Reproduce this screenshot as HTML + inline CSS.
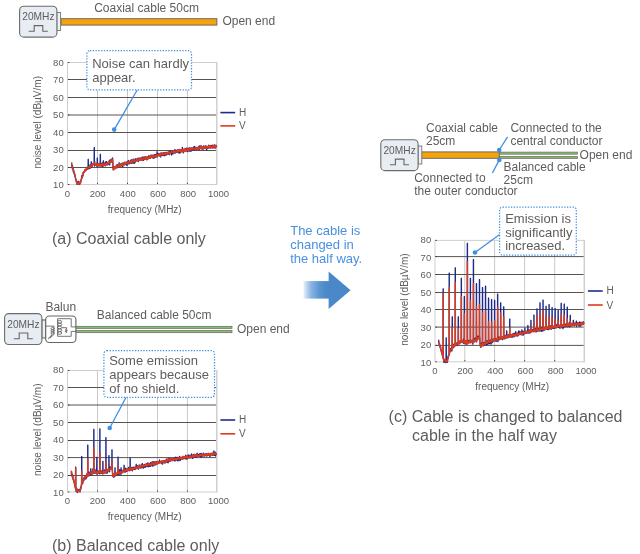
<!DOCTYPE html>
<html><head><meta charset="utf-8"><title>Cable emission</title>
<style>
html,body{margin:0;padding:0;background:#fff;}
svg{display:block;}
text{font-family:"Liberation Sans",sans-serif;fill:#5f5d5c;}
</style></head><body>
<svg width="640" height="554" viewBox="0 0 640 554">
<defs><linearGradient id="ag" x1="0" y1="0" x2="1" y2="0"><stop offset="0" stop-color="#eef4fb"/><stop offset="0.07" stop-color="#d2e1f4"/><stop offset="0.3" stop-color="#8ab4e2"/><stop offset="0.6" stop-color="#5c96d2"/><stop offset="0.85" stop-color="#4c8aca"/><stop offset="1" stop-color="#4a88c9"/></linearGradient></defs>
<rect width="640" height="554" fill="#fff"/>

<rect x="61.00" y="18.70" width="155.90" height="6.4" fill="#f4a30a" stroke="#5e6068" stroke-width="0.9"/>
<rect x="56.80" y="12.50" width="3.8" height="18" fill="#eef1f6" stroke="#747474" stroke-width="0.9"/>
<rect x="19.60" y="6.20" width="37.3" height="30.9" rx="4.2" ry="4.2" fill="#e8ecf3" stroke="#6c6c6c" stroke-width="1.1"/>
<text x="38.40" y="20.10" font-size="10.2" text-anchor="middle">20MHz</text>
<polyline fill="none" stroke="#666" stroke-width="1.1" points="28.80,31.30 34.20,31.30 34.20,25.60 42.80,25.60 42.80,31.30 47.80,31.30"/>
<text x="94.2" y="12.4" font-size="12">Coaxial cable 50cm</text>
<text x="222.4" y="25.4" font-size="12">Open end</text>
<rect x="67.50" y="62.50" width="149.30" height="122.00" fill="#fff"/>
<line x1="97.50" y1="62.50" x2="97.50" y2="184.50" stroke="#c9c9c9" stroke-width="1"/>
<line x1="127.50" y1="62.50" x2="127.50" y2="184.50" stroke="#c9c9c9" stroke-width="1"/>
<line x1="157.50" y1="62.50" x2="157.50" y2="184.50" stroke="#c9c9c9" stroke-width="1"/>
<line x1="187.40" y1="62.50" x2="187.40" y2="184.50" stroke="#c9c9c9" stroke-width="1"/>
<line x1="67.50" y1="167.50" x2="216.80" y2="167.50" stroke="#5a524e" stroke-width="1"/>
<line x1="67.50" y1="150.50" x2="216.80" y2="150.50" stroke="#5a524e" stroke-width="1"/>
<line x1="67.50" y1="132.50" x2="216.80" y2="132.50" stroke="#5a524e" stroke-width="1"/>
<line x1="67.50" y1="115.00" x2="216.80" y2="115.00" stroke="#5a524e" stroke-width="1"/>
<line x1="67.50" y1="97.50" x2="216.80" y2="97.50" stroke="#5a524e" stroke-width="1"/>
<line x1="67.50" y1="79.50" x2="216.80" y2="79.50" stroke="#5a524e" stroke-width="1"/>
<path d="M67.50 62.50 H216.80" stroke="#cfcfcf" stroke-width="1" fill="none"/>
<path d="M67.50 184.50 H216.80" stroke="#cfcfcf" stroke-width="1" fill="none"/>
<path d="M67.50 62.00 V185.00" stroke="#cfcfcf" stroke-width="1" fill="none"/>
<path d="M216.80 62.00 V185.00" stroke="#cfcfcf" stroke-width="1.5" fill="none"/>
<line x1="97.50" y1="182.80" x2="97.50" y2="184.00" stroke="#333" stroke-width="0.9"/>
<line x1="127.50" y1="182.80" x2="127.50" y2="184.00" stroke="#333" stroke-width="0.9"/>
<line x1="157.50" y1="182.80" x2="157.50" y2="184.00" stroke="#333" stroke-width="0.9"/>
<line x1="187.40" y1="182.80" x2="187.40" y2="184.00" stroke="#333" stroke-width="0.9"/>
<line x1="67.90" y1="184.50" x2="69.40" y2="184.50" stroke="#333" stroke-width="0.9"/>
<line x1="67.90" y1="167.50" x2="69.40" y2="167.50" stroke="#333" stroke-width="0.9"/>
<line x1="67.90" y1="150.50" x2="69.40" y2="150.50" stroke="#333" stroke-width="0.9"/>
<line x1="67.90" y1="132.50" x2="69.40" y2="132.50" stroke="#333" stroke-width="0.9"/>
<line x1="67.90" y1="115.00" x2="69.40" y2="115.00" stroke="#333" stroke-width="0.9"/>
<line x1="67.90" y1="97.50" x2="69.40" y2="97.50" stroke="#333" stroke-width="0.9"/>
<line x1="67.90" y1="79.50" x2="69.40" y2="79.50" stroke="#333" stroke-width="0.9"/>
<line x1="67.90" y1="62.50" x2="69.40" y2="62.50" stroke="#333" stroke-width="0.9"/>
<polyline fill="none" stroke="#1d2b8c" stroke-width="1.3" stroke-linejoin="round" points="71.59,162.61 71.74,165.27 71.89,165.70 72.04,166.73 72.19,165.37 72.35,168.93 72.50,165.54 72.65,168.46 72.80,167.93 72.95,168.98 73.10,167.84 73.25,171.76 73.40,170.61 73.56,171.19 73.71,170.26 73.86,172.93 74.01,172.57 74.16,173.77 74.31,173.41 74.46,173.41 74.61,175.56 74.77,173.99 74.92,174.82 75.07,175.80 75.22,176.01 75.37,178.13 75.52,178.19 75.67,179.57 75.83,179.52 75.98,179.34 76.13,181.12 76.28,181.30 76.43,182.04 76.58,182.66 76.73,182.96 76.88,182.80 77.04,184.33 77.19,183.02 77.34,181.65 77.49,182.54 77.64,183.43 77.79,184.10 77.94,183.97 78.09,181.62 78.25,183.20 78.40,183.86 78.55,183.07 78.70,181.23 78.85,183.13 79.00,182.66 79.15,182.96 79.31,183.59 79.46,184.35 79.61,183.59 79.76,183.45 79.91,182.69 80.06,182.44 80.21,182.35 80.36,182.98 80.52,181.81 80.67,182.81 80.82,180.29 80.97,180.42 81.12,180.62 81.27,179.28 81.42,179.24 81.57,177.49 81.73,176.54 81.88,175.41 82.03,178.36 82.18,177.92 82.33,176.53 82.48,175.40 82.63,174.22 82.79,174.27 82.94,176.03 83.09,173.88 83.24,172.30 83.39,172.67 83.54,171.95 83.69,172.69 83.84,172.47 84.00,171.89 84.15,171.46 84.30,171.46 84.45,171.33 84.60,171.88 84.75,170.67 84.90,170.71 85.05,169.57 85.21,169.34 85.36,170.15 85.51,170.53 85.66,170.62 85.81,169.43 85.96,169.60 86.11,169.84 86.27,169.30 86.42,169.77 86.57,168.34 86.72,169.28 86.87,167.51 87.02,168.13 87.17,167.78 87.32,169.24 87.48,167.86 87.63,167.23 87.78,168.77 87.93,168.03 87.97,167.61 88.08,167.66 88.17,159.45 88.23,168.93 88.29,159.45 88.38,167.22 88.49,167.61 88.53,166.62 88.69,168.18 88.84,166.93 88.99,168.45 89.14,167.14 89.29,168.57 89.44,165.85 89.59,166.46 89.75,166.79 89.90,167.43 90.05,165.37 90.20,164.62 90.35,168.22 90.50,165.16 90.65,164.69 90.80,165.85 90.96,167.25 91.00,165.93 91.11,165.18 91.20,161.90 91.26,166.10 91.32,161.90 91.41,166.39 91.52,165.93 91.56,166.88 91.71,165.05 91.86,164.71 92.01,165.96 92.17,164.74 92.32,166.23 92.47,164.24 92.62,164.86 92.77,164.97 92.92,164.77 93.07,163.72 93.22,163.72 93.38,163.82 93.53,164.09 93.68,164.03 93.83,163.40 93.98,163.65 94.03,163.65 94.13,163.11 94.22,147.55 94.28,163.95 94.34,147.55 94.44,166.05 94.54,163.65 94.59,162.77 94.74,161.73 94.89,163.47 95.04,164.05 95.19,164.15 95.34,164.19 95.49,164.12 95.65,165.28 95.80,164.76 95.95,165.28 96.10,164.14 96.25,164.73 96.40,164.03 96.55,164.73 96.70,163.67 96.86,164.48 97.01,162.64 97.05,164.87 97.16,166.63 97.25,158.05 97.31,165.49 97.37,158.05 97.46,164.06 97.57,164.87 97.61,162.56 97.76,165.29 97.92,165.00 98.07,165.25 98.22,163.74 98.37,165.28 98.52,164.34 98.67,165.29 98.82,166.20 98.97,164.66 99.13,164.47 99.28,163.70 99.43,165.04 99.58,165.52 99.73,164.37 99.88,164.67 100.03,164.62 100.08,164.87 100.18,164.95 100.28,154.38 100.34,163.75 100.40,154.38 100.49,164.51 100.59,164.87 100.64,163.02 100.79,163.77 100.94,164.20 101.09,166.39 101.24,164.23 101.40,164.39 101.55,164.01 101.70,163.77 101.85,165.15 102.00,163.96 102.15,165.29 102.30,162.85 102.45,166.01 102.61,166.41 102.76,166.29 102.91,165.55 103.06,165.76 103.10,164.66 103.21,162.79 103.30,160.85 103.36,164.98 103.42,160.85 103.51,165.94 103.62,164.66 103.66,163.57 103.82,165.19 103.97,165.81 104.12,163.77 104.27,164.00 104.42,165.01 104.57,163.22 104.72,164.44 104.88,163.00 105.03,164.06 105.18,163.04 105.33,164.42 105.48,165.62 105.63,162.01 105.78,164.81 105.93,164.40 106.09,164.81 106.13,163.98 106.24,164.25 106.33,161.72 106.39,163.74 106.45,161.72 106.54,163.70 106.65,163.98 106.69,163.18 106.84,162.02 106.99,163.78 107.14,164.77 107.30,164.64 107.45,164.07 107.60,164.96 107.75,162.48 107.90,163.67 108.05,163.41 108.20,163.04 108.35,164.30 108.51,163.71 108.66,162.15 108.81,162.13 108.96,163.07 109.11,160.82 109.26,163.74 109.41,162.74 109.57,162.55 109.72,164.94 109.87,160.24 110.02,161.60 110.17,162.81 110.32,159.69 110.47,160.95 110.62,160.95 110.78,161.80 110.93,160.97 111.08,162.39 111.23,160.01 111.38,160.99 111.53,160.35 111.68,159.18 111.83,159.91 111.99,159.79 112.14,159.63 112.29,160.45 112.44,158.79 112.59,157.96 112.74,160.95 112.89,163.06 113.05,166.99 113.20,169.21 113.35,169.69 113.50,167.05 113.65,168.41 113.80,166.75 113.95,168.78 114.10,168.38 114.26,167.79 114.41,166.93 114.56,167.69 114.71,167.47 114.86,167.59 115.01,167.36 115.16,168.54 115.31,167.32 115.47,167.50 115.62,167.31 115.77,166.71 115.92,167.77 116.07,167.13 116.22,167.26 116.37,166.50 116.53,166.08 116.68,167.68 116.83,166.13 116.98,164.64 117.13,167.97 117.28,167.28 117.43,167.26 117.58,166.61 117.74,164.71 117.89,166.19 118.04,166.80 118.19,165.47 118.34,166.57 118.49,164.84 118.64,165.56 118.79,164.45 118.95,166.35 119.10,162.73 119.25,164.78 119.40,164.87 119.55,165.48 119.70,166.06 119.85,166.13 120.00,165.36 120.16,165.94 120.31,164.85 120.46,165.86 120.61,164.42 120.76,164.04 120.91,165.59 121.06,163.71 121.22,165.03 121.37,163.64 121.52,164.28 121.67,163.57 121.82,165.55 121.97,164.65 122.12,163.09 122.27,165.03 122.43,166.35 122.58,166.20 122.73,166.69 122.88,166.26 123.03,164.57 123.18,162.89 123.33,164.50 123.48,163.71 123.64,164.07 123.79,163.90 123.94,164.02 124.09,163.98 124.24,163.31 124.39,164.83 124.54,162.68 124.70,162.71 124.85,163.73 125.00,162.72 125.15,164.12 125.30,163.90 125.45,163.18 125.60,163.47 125.75,163.66 125.91,163.82 126.06,163.66 126.21,162.17 126.36,164.89 126.51,162.63 126.66,163.14 126.81,162.16 126.96,162.31 127.12,165.44 127.27,162.14 127.42,162.34 127.57,162.58 127.72,163.01 127.87,161.70 128.02,162.88 128.18,160.68 128.33,161.86 128.48,160.31 128.63,163.09 128.78,163.98 128.93,161.57 129.08,161.39 129.23,162.14 129.39,163.62 129.54,162.53 129.69,161.47 129.84,162.20 129.99,162.10 130.14,162.11 130.29,162.81 130.44,162.38 130.60,163.20 130.75,160.09 130.90,162.21 131.05,161.25 131.20,162.66 131.35,160.87 131.50,163.40 131.66,160.67 131.81,161.56 131.96,159.45 132.11,162.70 132.26,161.33 132.41,161.01 132.56,160.14 132.71,161.70 132.87,161.17 133.02,163.28 133.17,161.97 133.32,160.70 133.47,160.04 133.62,161.33 133.77,159.04 133.92,159.29 134.08,161.00 134.23,163.23 134.38,162.58 134.53,161.58 134.68,159.72 134.83,160.45 134.98,162.73 135.13,160.90 135.29,159.08 135.44,160.96 135.59,161.28 135.74,158.54 135.89,160.43 136.04,160.91 136.19,160.07 136.35,160.35 136.50,160.74 136.65,159.13 136.80,159.18 136.95,159.40 137.10,160.27 137.25,159.03 137.40,160.15 137.56,159.61 137.71,159.03 137.86,159.20 138.01,158.22 138.16,159.47 138.31,161.49 138.46,160.94 138.61,158.49 138.77,160.07 138.92,159.34 139.07,160.49 139.22,158.67 139.37,159.97 139.52,158.16 139.67,160.03 139.83,158.41 139.98,158.79 140.13,160.10 140.28,158.31 140.43,160.20 140.58,160.08 140.73,158.56 140.88,159.81 141.04,159.75 141.19,159.47 141.34,160.06 141.49,158.05 141.64,158.43 141.79,159.05 141.94,159.05 142.09,158.47 142.25,157.17 142.40,157.99 142.55,159.28 142.70,158.00 142.85,158.83 143.00,158.87 143.15,156.85 143.31,159.01 143.46,159.04 143.61,160.42 143.76,159.85 143.91,158.04 144.06,159.10 144.21,157.90 144.36,159.44 144.52,159.07 144.67,157.65 144.82,156.85 144.97,157.65 145.12,157.04 145.27,156.51 145.42,157.12 145.57,158.97 145.73,158.15 145.88,157.41 146.03,158.38 146.18,157.51 146.33,159.43 146.48,158.67 146.63,157.33 146.79,159.96 146.94,158.84 147.09,157.75 147.24,159.35 147.39,157.61 147.54,158.40 147.69,157.88 147.84,157.81 148.00,157.34 148.15,158.03 148.30,157.37 148.45,158.00 148.60,156.85 148.75,155.72 148.90,157.13 149.05,157.12 149.21,158.37 149.36,156.54 149.51,157.90 149.66,157.92 149.81,156.57 149.96,156.90 150.11,155.97 150.26,155.61 150.42,157.48 150.57,156.81 150.72,155.20 150.87,155.93 151.02,156.14 151.17,155.53 151.32,157.34 151.48,156.11 151.63,155.33 151.78,155.09 151.93,157.39 152.08,156.82 152.23,156.18 152.38,156.79 152.53,156.85 152.69,155.78 152.84,156.75 152.99,158.09 153.14,155.99 153.29,156.71 153.44,156.97 153.59,157.74 153.74,155.22 153.90,158.30 154.05,157.76 154.20,156.36 154.35,154.87 154.50,154.76 154.65,157.10 154.80,156.12 154.96,157.37 155.11,154.91 155.26,157.27 155.41,155.95 155.56,154.78 155.71,155.95 155.86,154.29 156.01,156.51 156.17,155.28 156.32,154.78 156.47,155.70 156.62,154.20 156.77,154.97 156.92,157.04 157.07,151.61 157.22,154.77 157.38,155.25 157.53,156.67 157.68,155.21 157.83,155.69 157.98,154.60 158.13,154.83 158.28,153.37 158.44,154.99 158.59,154.60 158.74,154.70 158.89,155.17 159.04,155.17 159.19,153.91 159.34,154.18 159.49,155.51 159.65,155.94 159.80,154.91 159.95,153.69 160.10,154.80 160.25,153.07 160.40,155.46 160.55,154.55 160.70,157.07 160.86,155.19 161.01,154.89 161.16,154.07 161.31,152.88 161.46,154.46 161.61,153.06 161.76,153.79 161.92,153.45 162.07,154.82 162.22,153.00 162.37,155.34 162.52,153.80 162.67,155.16 162.82,154.71 162.97,155.59 163.13,154.64 163.28,153.78 163.43,154.15 163.58,155.35 163.73,152.61 163.88,153.67 164.03,152.99 164.18,153.17 164.34,154.54 164.49,155.74 164.64,154.71 164.79,152.62 164.94,154.78 165.09,152.95 165.24,154.30 165.39,153.30 165.55,155.40 165.70,152.49 165.85,153.62 166.00,152.70 166.15,153.33 166.30,152.72 166.45,153.55 166.61,152.71 166.76,154.84 166.91,154.40 167.06,152.63 167.21,153.33 167.36,153.49 167.51,153.41 167.66,152.72 167.82,153.74 167.97,152.65 168.12,153.99 168.27,153.47 168.42,152.10 168.57,151.98 168.72,154.04 168.87,152.14 169.03,153.92 169.18,152.18 169.33,154.68 169.48,153.90 169.63,153.28 169.78,152.92 169.93,151.36 170.09,151.83 170.24,151.15 170.39,151.47 170.54,152.88 170.69,152.83 170.84,151.51 170.99,152.47 171.14,152.63 171.30,153.73 171.45,152.52 171.60,155.07 171.75,152.79 171.90,153.26 172.05,151.62 172.20,152.72 172.35,152.54 172.51,150.90 172.66,153.17 172.81,151.83 172.96,153.92 173.11,151.99 173.26,151.65 173.41,151.19 173.57,152.86 173.72,151.66 173.87,151.64 174.02,151.93 174.17,151.75 174.32,151.42 174.47,151.45 174.62,152.77 174.78,152.94 174.93,149.35 175.08,149.88 175.23,153.05 175.38,151.25 175.53,151.05 175.68,150.90 175.83,151.47 175.99,152.47 176.14,151.72 176.29,152.00 176.44,151.37 176.59,151.73 176.74,151.57 176.89,150.44 177.05,150.21 177.20,152.50 177.35,151.78 177.50,152.07 177.65,150.11 177.80,151.32 177.95,149.84 178.10,151.67 178.26,151.16 178.41,152.45 178.56,149.88 178.71,151.45 178.86,152.51 179.01,151.62 179.16,153.24 179.31,151.03 179.47,150.86 179.62,150.67 179.77,149.48 179.92,151.18 180.07,150.09 180.22,150.54 180.37,151.00 180.52,152.79 180.68,149.85 180.83,151.22 180.98,150.69 181.13,151.91 181.28,150.38 181.43,150.53 181.58,150.58 181.74,150.71 181.89,149.54 182.04,149.60 182.19,149.80 182.34,147.28 182.49,151.02 182.64,150.79 182.79,151.37 182.95,149.95 183.10,151.00 183.25,152.91 183.40,151.46 183.55,150.19 183.70,149.26 183.85,151.71 184.00,150.77 184.16,150.29 184.31,150.83 184.46,149.59 184.61,150.07 184.76,149.74 184.91,150.72 185.06,148.52 185.22,149.97 185.37,148.70 185.52,150.34 185.67,149.33 185.82,150.52 185.97,150.76 186.12,150.49 186.27,149.83 186.43,149.97 186.58,148.26 186.73,150.82 186.88,150.73 187.03,148.02 187.18,149.05 187.33,151.42 187.48,149.10 187.64,149.33 187.79,151.59 187.94,149.86 188.09,149.49 188.24,148.75 188.39,148.52 188.54,149.33 188.70,148.40 188.85,149.52 189.00,150.18 189.15,150.24 189.30,148.80 189.45,151.19 189.60,148.63 189.75,150.33 189.91,149.59 190.06,148.74 190.21,148.03 190.36,151.05 190.51,149.94 190.66,149.10 190.81,149.70 190.96,148.28 191.12,151.10 191.27,148.72 191.42,148.64 191.57,148.99 191.72,147.95 191.87,150.18 192.02,147.91 192.18,149.63 192.33,148.24 192.48,149.23 192.63,148.11 192.78,148.13 192.93,150.27 193.08,148.99 193.23,148.91 193.39,149.03 193.54,149.51 193.69,146.98 193.84,148.54 193.99,147.23 194.14,149.25 194.29,149.71 194.44,148.54 194.60,149.19 194.75,146.33 194.90,148.37 195.05,147.48 195.20,148.79 195.35,148.86 195.50,148.56 195.65,148.17 195.81,147.68 195.96,148.59 196.11,149.11 196.26,149.46 196.41,148.49 196.56,147.85 196.71,147.94 196.87,148.38 197.02,148.92 197.17,148.18 197.32,147.75 197.47,148.32 197.62,148.15 197.77,148.39 197.92,147.34 198.08,148.63 198.23,148.01 198.38,147.79 198.53,147.45 198.68,146.69 198.83,147.46 198.98,147.51 199.13,149.48 199.29,147.47 199.44,145.82 199.59,148.81 199.74,148.97 199.89,148.18 200.04,146.97 200.19,147.43 200.35,148.37 200.50,147.93 200.65,146.88 200.80,147.21 200.95,145.50 201.10,146.85 201.25,147.46 201.40,147.19 201.56,148.10 201.71,148.68 201.86,147.56 202.01,147.23 202.16,149.03 202.31,148.17 202.46,148.00 202.61,147.37 202.77,147.86 202.92,147.16 203.07,147.47 203.22,146.53 203.37,149.18 203.52,145.93 203.67,146.14 203.83,147.45 203.98,146.85 204.13,146.88 204.28,148.16 204.43,147.28 204.58,146.68 204.73,147.11 204.88,146.38 205.04,147.29 205.19,147.29 205.34,148.09 205.49,147.69 205.64,147.77 205.79,145.67 205.94,147.07 206.09,148.25 206.25,146.89 206.40,147.44 206.55,150.18 206.70,146.77 206.85,148.71 207.00,146.64 207.15,148.11 207.31,148.58 207.46,146.68 207.61,148.58 207.76,147.56 207.91,146.92 208.06,146.51 208.21,146.37 208.36,147.11 208.52,147.86 208.67,145.19 208.82,147.62 208.97,145.28 209.12,147.44 209.27,145.87 209.42,145.95 209.57,147.97 209.73,146.61 209.88,146.21 210.03,146.25 210.18,147.10 210.33,146.60 210.48,147.26 210.63,147.99 210.78,145.90 210.94,147.37 211.09,145.49 211.24,146.23 211.39,147.65 211.54,146.94 211.69,147.04 211.84,147.59 212.00,146.26 212.15,147.18 212.30,145.14 212.45,145.87 212.60,147.53 212.75,146.69 212.90,146.87 213.05,148.15 213.21,145.73 213.36,145.70 213.51,145.71 213.66,147.02 213.81,145.54 213.96,146.76 214.11,145.64 214.26,144.78 214.42,146.38 214.57,147.87 214.72,146.79 214.87,145.86 215.02,145.28 215.17,147.54 215.32,146.61 215.48,146.19 215.63,145.98 215.78,145.51 215.93,147.29 216.08,146.77 216.23,145.38 216.38,145.95"/>
<polyline fill="none" stroke="#dc3a1c" stroke-width="1.3" stroke-linejoin="round" points="71.59,162.52 71.74,164.30 71.89,164.63 72.04,165.39 72.19,165.81 72.35,166.91 72.50,167.74 72.65,167.36 72.80,169.47 72.95,168.29 73.10,168.93 73.25,170.14 73.40,170.18 73.56,171.29 73.71,171.92 73.86,171.29 74.01,172.28 74.16,171.71 74.31,171.85 74.46,173.56 74.61,174.31 74.77,174.06 74.92,176.73 75.07,176.99 75.22,176.96 75.37,177.24 75.52,177.97 75.67,178.55 75.83,178.77 75.98,179.81 76.13,180.06 76.28,180.71 76.43,181.69 76.58,182.31 76.73,182.89 76.88,182.49 77.04,183.32 77.19,182.09 77.34,183.10 77.49,182.03 77.64,183.86 77.79,183.13 77.94,183.95 78.09,183.25 78.25,182.62 78.40,183.35 78.55,183.27 78.70,182.85 78.85,181.93 79.00,183.62 79.15,183.71 79.31,183.46 79.46,183.16 79.61,183.54 79.76,182.91 79.91,182.62 80.06,183.82 80.21,182.11 80.36,183.94 80.52,182.29 80.67,181.85 80.82,180.22 80.97,181.15 81.12,180.19 81.27,179.33 81.42,178.53 81.57,178.60 81.73,176.81 81.88,178.13 82.03,177.47 82.18,176.42 82.33,176.49 82.48,176.40 82.63,174.15 82.79,173.98 82.94,175.39 83.09,172.98 83.24,172.37 83.39,173.53 83.54,171.89 83.69,173.38 83.84,172.58 84.00,172.17 84.15,171.56 84.30,171.41 84.45,171.31 84.60,171.76 84.75,170.09 84.90,170.42 85.05,170.99 85.21,170.84 85.36,169.47 85.51,169.77 85.66,170.56 85.81,170.08 85.96,169.04 86.11,170.72 86.27,169.87 86.42,168.74 86.57,169.76 86.72,167.86 86.87,169.37 87.02,169.37 87.17,169.17 87.32,168.16 87.48,168.28 87.63,168.41 87.78,167.79 87.93,168.27 88.08,167.53 88.23,167.21 88.38,167.30 88.53,168.10 88.69,166.80 88.84,167.17 88.99,166.67 89.14,166.50 89.29,167.25 89.44,166.45 89.59,167.28 89.75,166.41 89.90,167.67 90.05,166.18 90.20,166.50 90.35,167.46 90.50,166.14 90.65,166.59 90.80,164.88 90.96,165.97 91.11,164.60 91.26,165.48 91.41,166.34 91.56,165.51 91.71,165.43 91.86,164.94 92.01,166.31 92.17,165.40 92.32,165.48 92.47,164.87 92.62,164.78 92.77,164.59 92.92,164.26 93.07,164.67 93.22,163.97 93.38,164.57 93.53,164.47 93.68,163.89 93.83,163.87 93.98,164.48 94.13,162.40 94.28,164.24 94.44,164.64 94.59,163.08 94.74,163.51 94.89,163.65 95.04,164.34 95.19,164.87 95.34,164.21 95.49,164.16 95.65,164.19 95.80,164.20 95.95,163.56 96.10,165.05 96.25,165.61 96.40,164.73 96.55,165.58 96.70,166.30 96.86,163.75 97.01,164.64 97.16,165.19 97.31,165.11 97.46,163.86 97.61,164.30 97.76,164.50 97.92,164.84 98.07,165.68 98.22,165.10 98.37,165.59 98.52,163.75 98.67,165.63 98.82,165.78 98.97,165.97 99.13,164.46 99.28,165.97 99.43,164.56 99.58,164.75 99.73,165.04 99.88,163.38 100.03,165.23 100.18,164.58 100.34,165.63 100.49,165.35 100.64,164.39 100.79,165.31 100.94,164.85 101.09,164.40 101.24,164.76 101.40,165.05 101.55,164.75 101.70,166.07 101.85,164.94 102.00,164.11 102.15,163.67 102.30,164.31 102.45,164.63 102.61,164.61 102.76,165.17 102.91,164.10 103.06,164.13 103.21,165.00 103.36,165.61 103.51,164.38 103.66,163.87 103.82,164.90 103.97,164.46 104.12,164.36 104.27,163.99 104.42,164.27 104.57,165.15 104.72,164.05 104.88,164.74 105.03,164.53 105.18,163.99 105.33,165.65 105.48,163.92 105.63,165.03 105.78,164.65 105.93,163.47 106.09,163.40 106.24,164.56 106.39,164.61 106.54,164.83 106.69,164.34 106.84,162.76 106.99,163.55 107.14,164.19 107.30,163.59 107.45,164.24 107.60,163.40 107.75,162.84 107.90,164.05 108.05,162.58 108.20,162.06 108.35,162.39 108.51,163.21 108.66,162.22 108.81,163.32 108.96,163.29 109.11,161.24 109.26,163.26 109.41,162.90 109.57,162.48 109.72,162.19 109.87,161.29 110.02,161.47 110.17,160.98 110.32,161.19 110.47,161.33 110.62,162.22 110.78,161.13 110.93,161.52 111.08,161.36 111.23,160.95 111.38,159.35 111.53,159.87 111.68,159.70 111.83,160.85 111.99,160.04 112.14,160.03 112.29,159.57 112.44,159.09 112.59,159.54 112.74,161.61 112.89,163.50 113.05,165.89 113.20,167.88 113.35,169.98 113.50,168.84 113.65,168.26 113.80,168.72 113.95,168.69 114.10,169.53 114.26,167.48 114.41,168.02 114.56,168.31 114.71,166.62 114.86,167.89 115.01,167.01 115.16,167.32 115.31,167.02 115.47,168.58 115.62,167.36 115.77,167.46 115.92,166.69 116.07,165.34 116.22,166.04 116.37,166.11 116.53,167.74 116.68,166.63 116.83,166.84 116.98,167.50 117.13,166.36 117.28,165.87 117.43,166.21 117.58,165.78 117.74,165.45 117.89,166.44 118.04,164.94 118.19,166.59 118.34,166.13 118.49,165.96 118.64,166.12 118.79,166.70 118.95,165.07 119.10,164.51 119.25,165.27 119.40,165.43 119.55,165.66 119.70,165.08 119.85,164.94 120.00,165.34 120.16,165.54 120.31,166.68 120.46,165.09 120.61,164.15 120.76,164.93 120.91,165.85 121.06,165.36 121.22,165.78 121.37,166.02 121.52,163.78 121.67,164.54 121.82,164.31 121.97,165.89 122.12,164.16 122.27,164.01 122.43,163.62 122.58,164.97 122.73,165.06 122.88,163.45 123.03,163.78 123.18,164.30 123.33,163.61 123.48,162.94 123.64,163.78 123.79,163.59 123.94,163.28 124.09,163.35 124.24,163.84 124.39,163.65 124.54,164.80 124.70,164.40 124.85,161.95 125.00,163.87 125.15,164.49 125.30,162.56 125.45,162.23 125.60,164.09 125.75,163.21 125.91,163.31 126.06,163.31 126.21,163.59 126.36,163.53 126.51,163.27 126.66,162.58 126.81,162.98 126.96,162.67 127.12,162.66 127.27,162.82 127.42,163.05 127.57,163.13 127.72,162.79 127.87,162.53 128.02,163.36 128.18,162.93 128.33,161.81 128.48,162.87 128.63,162.26 128.78,163.17 128.93,161.48 129.08,161.39 129.23,162.02 129.39,162.06 129.54,161.81 129.69,162.14 129.84,162.46 129.99,161.46 130.14,162.39 130.29,161.65 130.44,161.09 130.60,162.56 130.75,161.88 130.90,161.74 131.05,163.04 131.20,161.98 131.35,161.59 131.50,162.39 131.66,160.95 131.81,160.50 131.96,160.58 132.11,160.17 132.26,161.59 132.41,160.64 132.56,161.12 132.71,162.05 132.87,161.83 133.02,161.46 133.17,162.27 133.32,161.15 133.47,161.08 133.62,159.29 133.77,160.83 133.92,160.13 134.08,160.60 134.23,161.33 134.38,161.46 134.53,161.18 134.68,161.00 134.83,160.04 134.98,159.95 135.13,160.92 135.29,160.79 135.44,161.09 135.59,160.68 135.74,160.35 135.89,160.82 136.04,160.36 136.19,160.80 136.35,159.54 136.50,160.19 136.65,160.64 136.80,159.38 136.95,161.29 137.10,160.25 137.25,159.19 137.40,159.34 137.56,159.57 137.71,160.04 137.86,159.35 138.01,159.49 138.16,159.23 138.31,160.49 138.46,159.13 138.61,160.35 138.77,160.54 138.92,159.72 139.07,159.72 139.22,158.84 139.37,159.73 139.52,159.36 139.67,160.14 139.83,160.24 139.98,159.67 140.13,159.04 140.28,157.76 140.43,159.98 140.58,158.17 140.73,159.43 140.88,158.34 141.04,160.08 141.19,158.97 141.34,159.00 141.49,159.34 141.64,159.19 141.79,158.98 141.94,158.86 142.09,160.07 142.25,159.64 142.40,159.37 142.55,160.49 142.70,159.60 142.85,158.26 143.00,158.49 143.15,159.22 143.31,158.03 143.46,158.58 143.61,159.12 143.76,158.12 143.91,157.65 144.06,158.65 144.21,157.95 144.36,158.19 144.52,158.13 144.67,159.07 144.82,159.10 144.97,158.91 145.12,158.00 145.27,158.20 145.42,158.24 145.57,157.29 145.73,157.11 145.88,159.18 146.03,159.30 146.18,158.23 146.33,157.64 146.48,157.52 146.63,158.01 146.79,159.11 146.94,156.61 147.09,158.16 147.24,157.48 147.39,157.65 147.54,157.83 147.69,156.91 147.84,156.78 148.00,158.37 148.15,159.07 148.30,157.86 148.45,157.21 148.60,157.21 148.75,157.13 148.90,156.62 149.05,156.65 149.21,157.52 149.36,158.06 149.51,157.65 149.66,156.41 149.81,157.54 149.96,156.37 150.11,156.62 150.26,155.67 150.42,156.97 150.57,158.36 150.72,155.66 150.87,156.84 151.02,156.90 151.17,155.91 151.32,156.97 151.48,157.38 151.63,156.90 151.78,156.29 151.93,156.86 152.08,155.46 152.23,157.14 152.38,156.99 152.53,157.32 152.69,155.26 152.84,155.34 152.99,156.56 153.14,156.88 153.29,157.40 153.44,155.37 153.59,155.85 153.74,155.80 153.90,156.39 154.05,155.38 154.20,156.07 154.35,156.79 154.50,156.58 154.65,155.82 154.80,156.80 154.96,155.59 155.11,156.47 155.26,156.14 155.41,156.14 155.56,155.98 155.71,155.42 155.86,156.53 156.01,156.09 156.17,156.50 156.32,155.92 156.47,156.19 156.62,155.45 156.77,155.22 156.92,154.27 157.07,155.73 157.22,154.57 157.38,155.70 157.53,155.74 157.68,154.90 157.83,154.63 157.98,154.55 158.13,154.87 158.28,155.07 158.44,154.04 158.59,155.39 158.74,155.59 158.89,155.43 159.04,155.80 159.19,155.39 159.34,153.96 159.49,155.91 159.65,153.80 159.80,155.80 159.95,154.15 160.10,156.47 160.25,153.68 160.40,155.14 160.55,154.57 160.70,154.70 160.86,154.83 161.01,153.64 161.16,153.90 161.31,154.56 161.46,154.21 161.61,153.88 161.76,154.62 161.92,153.87 162.07,153.72 162.22,154.70 162.37,155.02 162.52,154.07 162.67,154.79 162.82,153.95 162.97,154.35 163.13,153.53 163.28,153.55 163.43,152.79 163.58,153.28 163.73,153.69 163.88,154.37 164.03,154.58 164.18,153.60 164.34,153.08 164.49,153.32 164.64,153.91 164.79,154.14 164.94,153.05 165.09,153.58 165.24,154.80 165.39,152.72 165.55,155.01 165.70,154.09 165.85,153.83 166.00,153.18 166.15,153.85 166.30,153.91 166.45,153.47 166.61,152.72 166.76,153.60 166.91,152.06 167.06,153.16 167.21,153.60 167.36,153.53 167.51,153.64 167.66,152.79 167.82,153.35 167.97,153.24 168.12,153.50 168.27,151.96 168.42,154.22 168.57,153.22 168.72,152.74 168.87,152.75 169.03,152.89 169.18,152.42 169.33,152.70 169.48,152.95 169.63,153.43 169.78,152.55 169.93,153.40 170.09,153.94 170.24,152.07 170.39,152.80 170.54,152.90 170.69,152.69 170.84,152.63 170.99,152.71 171.14,152.59 171.30,152.30 171.45,152.50 171.60,152.06 171.75,150.82 171.90,151.71 172.05,151.99 172.20,152.19 172.35,151.99 172.51,151.70 172.66,151.88 172.81,151.40 172.96,151.43 173.11,152.19 173.26,152.33 173.41,151.71 173.57,150.96 173.72,152.63 173.87,151.66 174.02,151.95 174.17,151.98 174.32,152.00 174.47,150.87 174.62,151.15 174.78,151.69 174.93,152.07 175.08,151.16 175.23,151.48 175.38,151.94 175.53,151.90 175.68,151.46 175.83,152.62 175.99,151.66 176.14,151.72 176.29,151.87 176.44,151.07 176.59,151.93 176.74,151.30 176.89,151.65 177.05,151.63 177.20,151.66 177.35,149.58 177.50,151.25 177.65,151.80 177.80,152.24 177.95,152.14 178.10,151.81 178.26,151.48 178.41,151.28 178.56,150.48 178.71,151.40 178.86,150.85 179.01,151.07 179.16,150.65 179.31,150.69 179.47,150.95 179.62,151.01 179.77,149.71 179.92,150.83 180.07,151.57 180.22,151.20 180.37,151.84 180.52,151.18 180.68,151.66 180.83,150.11 180.98,149.33 181.13,150.51 181.28,151.12 181.43,151.09 181.58,151.39 181.74,151.43 181.89,150.71 182.04,149.90 182.19,150.74 182.34,151.56 182.49,149.15 182.64,151.58 182.79,150.02 182.95,149.19 183.10,149.61 183.25,149.83 183.40,151.50 183.55,149.76 183.70,150.67 183.85,150.22 184.00,151.07 184.16,150.92 184.31,150.75 184.46,148.93 184.61,150.63 184.76,150.90 184.91,151.50 185.06,148.88 185.22,149.56 185.37,150.28 185.52,151.42 185.67,150.56 185.82,150.36 185.97,148.59 186.12,150.36 186.27,149.39 186.43,150.82 186.58,149.95 186.73,149.08 186.88,150.07 187.03,150.53 187.18,149.17 187.33,149.24 187.48,149.40 187.64,148.86 187.79,149.82 187.94,149.27 188.09,150.16 188.24,149.62 188.39,149.39 188.54,150.75 188.70,149.77 188.85,148.95 189.00,150.34 189.15,149.78 189.30,149.25 189.45,147.44 189.60,148.68 189.75,149.60 189.91,150.21 190.06,149.45 190.21,149.19 190.36,148.51 190.51,149.49 190.66,148.63 190.81,148.45 190.96,149.26 191.12,148.61 191.27,149.30 191.42,149.03 191.57,149.96 191.72,148.98 191.87,148.47 192.02,148.62 192.18,149.10 192.33,148.32 192.48,149.28 192.63,149.04 192.78,149.71 192.93,148.44 193.08,149.10 193.23,148.68 193.39,148.68 193.54,148.78 193.69,148.57 193.84,148.28 193.99,148.78 194.14,148.37 194.29,148.58 194.44,148.31 194.60,148.80 194.75,147.99 194.90,148.22 195.05,149.11 195.20,148.67 195.35,149.01 195.50,149.63 195.65,148.64 195.81,147.68 195.96,148.06 196.11,148.46 196.26,148.17 196.41,148.01 196.56,147.65 196.71,147.86 196.87,147.05 197.02,147.63 197.17,149.39 197.32,148.22 197.47,147.64 197.62,148.38 197.77,149.20 197.92,148.19 198.08,148.58 198.23,149.55 198.38,148.24 198.53,147.48 198.68,147.69 198.83,147.67 198.98,147.98 199.13,148.72 199.29,147.29 199.44,148.17 199.59,148.38 199.74,147.88 199.89,146.91 200.04,147.64 200.19,147.72 200.35,148.47 200.50,146.70 200.65,147.32 200.80,146.85 200.95,146.70 201.10,148.55 201.25,147.25 201.40,147.29 201.56,148.87 201.71,147.52 201.86,148.00 202.01,148.92 202.16,147.19 202.31,147.79 202.46,147.68 202.61,147.16 202.77,147.56 202.92,147.31 203.07,148.33 203.22,147.06 203.37,147.76 203.52,148.15 203.67,147.73 203.83,147.03 203.98,148.38 204.13,147.05 204.28,147.69 204.43,146.29 204.58,146.98 204.73,147.21 204.88,146.89 205.04,147.70 205.19,147.08 205.34,147.47 205.49,147.68 205.64,147.17 205.79,147.39 205.94,146.47 206.09,147.09 206.25,147.06 206.40,147.36 206.55,146.45 206.70,148.37 206.85,148.35 207.00,147.93 207.15,147.17 207.31,148.39 207.46,147.81 207.61,146.72 207.76,146.80 207.91,148.02 208.06,146.67 208.21,146.14 208.36,145.75 208.52,146.95 208.67,146.86 208.82,147.09 208.97,145.97 209.12,146.68 209.27,147.57 209.42,146.46 209.57,147.34 209.73,146.58 209.88,147.72 210.03,146.99 210.18,145.41 210.33,147.63 210.48,146.73 210.63,146.15 210.78,146.99 210.94,146.17 211.09,146.53 211.24,147.18 211.39,147.28 211.54,146.65 211.69,147.86 211.84,147.54 212.00,146.62 212.15,147.47 212.30,146.86 212.45,147.44 212.60,145.91 212.75,146.12 212.90,146.38 213.05,146.52 213.21,146.95 213.36,147.32 213.51,145.29 213.66,146.20 213.81,146.67 213.96,146.28 214.11,145.95 214.26,145.72 214.42,145.48 214.57,146.04 214.72,146.99 214.87,146.42 215.02,146.15 215.17,146.49 215.32,146.38 215.48,148.31 215.63,145.37 215.78,146.49 215.93,145.32 216.08,145.78 216.23,146.09 216.38,145.08"/>
<text x="63.70" y="188.40" font-size="9.5" text-anchor="end">10</text>
<text x="63.70" y="170.90" font-size="9.5" text-anchor="end">20</text>
<text x="63.70" y="153.40" font-size="9.5" text-anchor="end">30</text>
<text x="63.70" y="135.90" font-size="9.5" text-anchor="end">40</text>
<text x="63.70" y="118.40" font-size="9.5" text-anchor="end">50</text>
<text x="63.70" y="100.90" font-size="9.5" text-anchor="end">60</text>
<text x="63.70" y="83.40" font-size="9.5" text-anchor="end">70</text>
<text x="63.70" y="65.90" font-size="9.5" text-anchor="end">80</text>
<text x="67.35" y="196.60" font-size="9.5" text-anchor="middle">0</text>
<text x="97.57" y="196.60" font-size="9.5" text-anchor="middle">200</text>
<text x="127.79" y="196.60" font-size="9.5" text-anchor="middle">400</text>
<text x="158.01" y="196.60" font-size="9.5" text-anchor="middle">600</text>
<text x="188.23" y="196.60" font-size="9.5" text-anchor="middle">800</text>
<text x="218.45" y="196.60" font-size="9.5" text-anchor="middle">1000</text>
<text x="144.75" y="212.80" font-size="10" text-anchor="middle">frequency (MHz)</text>
<text transform="translate(40.90,122.25) rotate(-90)" font-size="10" text-anchor="middle">noise level (dBµV/m)</text>
<line x1="220.40" y1="112.60" x2="235.20" y2="112.60" stroke="#1d2b8c" stroke-width="1.6"/>
<line x1="220.40" y1="125.90" x2="235.20" y2="125.90" stroke="#dc3a1c" stroke-width="1.6"/>
<text x="239.00" y="116.00" font-size="10">H</text>
<text x="239.00" y="129.40" font-size="10">V</text>
<line x1="137.2" y1="90" x2="114.2" y2="129.6" stroke="#3f8fe3" stroke-width="1.3"/>
<circle cx="114.2" cy="129.6" r="2.3" fill="#3f8fe3"/>
<rect x="86.9" y="50.7" width="104.6" height="39.2" rx="3" ry="3" fill="#fff" stroke="#3f8fe3" stroke-width="1.25" stroke-dasharray="1.3 1.5"/>
<text x="92.2" y="68.00" font-size="13">Noise can hardly</text>
<text x="92.2" y="82.00" font-size="13">appear.</text>
<text x="52" y="244" font-size="16">(a) Coaxial cable only</text>
<rect x="75.50" y="326.30" width="156.50" height="2.1" fill="#86bd66" stroke="#686868" stroke-width="0.7"/>
<rect x="75.50" y="330.60" width="156.50" height="2.1" fill="#86bd66" stroke="#686868" stroke-width="0.7"/>
<rect x="41.80" y="319.90" width="3.8" height="18" fill="#eef1f6" stroke="#747474" stroke-width="0.9"/>
<rect x="4.60" y="313.60" width="37.3" height="30.9" rx="4.2" ry="4.2" fill="#e8ecf3" stroke="#6c6c6c" stroke-width="1.1"/>
<text x="23.40" y="327.50" font-size="10.2" text-anchor="middle">20MHz</text>
<polyline fill="none" stroke="#666" stroke-width="1.1" points="13.80,338.70 19.20,338.70 19.20,333.00 27.80,333.00 27.80,338.70 32.80,338.70"/>
<g fill="none" stroke="#5c5c5c" stroke-width="0.85">
<rect x="42.2" y="320.2" width="3.6" height="17.6" fill="#eef1f6" stroke="#777" stroke-width="0.9"/>
<rect x="45.7" y="316" width="30.2" height="26.5" rx="3.6" ry="3.6" fill="#fff" stroke="#666" stroke-width="1.15"/>
<path d="M45.7 326.1 H54 V334.6"/>
<ellipse cx="52.5" cy="328.6" rx="1.6" ry="1"/><ellipse cx="52.5" cy="330.8" rx="1.6" ry="1"/><ellipse cx="52.5" cy="333" rx="1.6" ry="1"/>
<path d="M54 334.6 L52.4 335.4 L51.4 334.8 L51.9 336.5 L50.3 336 L50.8 337.8 L49.2 337.3 L48.6 339.2"/>
<path d="M57.6 336.3 V318.7 H71.2 V326.9 H75.9"/>
<path d="M57.6 336.3 H71.2 V331.4 H75.9"/>
<ellipse cx="59.7" cy="321.8" rx="2.1" ry="1.3"/><ellipse cx="59.7" cy="324.6" rx="2.1" ry="1.3"/><ellipse cx="59.7" cy="327.4" rx="2.1" ry="1.3"/><ellipse cx="59.7" cy="330.2" rx="2.1" ry="1.3"/><ellipse cx="59.7" cy="333" rx="2.1" ry="1.3"/>
<path d="M61.8 327.7 H66.6 V329.4 L65.2 330 L67.4 330.6 L65.2 331.4 L67 332 L65.6 332.8"/>
</g>
<text x="45.4" y="310.6" font-size="12">Balun</text>
<text x="96.8" y="318.5" font-size="12">Balanced cable 50cm</text>
<text x="237" y="332.7" font-size="12">Open end</text>
<rect x="67.50" y="370.50" width="149.30" height="121.50" fill="#fff"/>
<line x1="97.50" y1="370.50" x2="97.50" y2="492.00" stroke="#c9c9c9" stroke-width="1"/>
<line x1="127.50" y1="370.50" x2="127.50" y2="492.00" stroke="#c9c9c9" stroke-width="1"/>
<line x1="157.50" y1="370.50" x2="157.50" y2="492.00" stroke="#c9c9c9" stroke-width="1"/>
<line x1="187.40" y1="370.50" x2="187.40" y2="492.00" stroke="#c9c9c9" stroke-width="1"/>
<line x1="67.50" y1="475.50" x2="216.80" y2="475.50" stroke="#5a524e" stroke-width="1"/>
<line x1="67.50" y1="457.60" x2="216.80" y2="457.60" stroke="#5a524e" stroke-width="1"/>
<line x1="67.50" y1="440.50" x2="216.80" y2="440.50" stroke="#5a524e" stroke-width="1"/>
<line x1="67.50" y1="422.50" x2="216.80" y2="422.50" stroke="#5a524e" stroke-width="1"/>
<line x1="67.50" y1="405.00" x2="216.80" y2="405.00" stroke="#5a524e" stroke-width="1"/>
<line x1="67.50" y1="387.50" x2="216.80" y2="387.50" stroke="#5a524e" stroke-width="1"/>
<path d="M67.50 370.50 H216.80" stroke="#cfcfcf" stroke-width="1" fill="none"/>
<path d="M67.50 492.00 H216.80" stroke="#cfcfcf" stroke-width="1" fill="none"/>
<path d="M67.50 370.00 V492.50" stroke="#cfcfcf" stroke-width="1" fill="none"/>
<path d="M216.80 370.00 V492.50" stroke="#cfcfcf" stroke-width="1.5" fill="none"/>
<line x1="97.50" y1="490.30" x2="97.50" y2="491.50" stroke="#333" stroke-width="0.9"/>
<line x1="127.50" y1="490.30" x2="127.50" y2="491.50" stroke="#333" stroke-width="0.9"/>
<line x1="157.50" y1="490.30" x2="157.50" y2="491.50" stroke="#333" stroke-width="0.9"/>
<line x1="187.40" y1="490.30" x2="187.40" y2="491.50" stroke="#333" stroke-width="0.9"/>
<line x1="67.90" y1="492.00" x2="69.40" y2="492.00" stroke="#333" stroke-width="0.9"/>
<line x1="67.90" y1="475.50" x2="69.40" y2="475.50" stroke="#333" stroke-width="0.9"/>
<line x1="67.90" y1="457.60" x2="69.40" y2="457.60" stroke="#333" stroke-width="0.9"/>
<line x1="67.90" y1="440.50" x2="69.40" y2="440.50" stroke="#333" stroke-width="0.9"/>
<line x1="67.90" y1="422.50" x2="69.40" y2="422.50" stroke="#333" stroke-width="0.9"/>
<line x1="67.90" y1="405.00" x2="69.40" y2="405.00" stroke="#333" stroke-width="0.9"/>
<line x1="67.90" y1="387.50" x2="69.40" y2="387.50" stroke="#333" stroke-width="0.9"/>
<line x1="67.90" y1="370.50" x2="69.40" y2="370.50" stroke="#333" stroke-width="0.9"/>
<polyline fill="none" stroke="#1d2b8c" stroke-width="1.3" stroke-linejoin="round" points="71.14,472.08 71.29,472.24 71.44,474.75 71.59,471.62 71.74,475.43 71.90,475.02 72.05,474.24 72.20,476.43 72.35,476.75 72.50,477.12 72.65,476.22 72.80,475.07 72.95,477.76 73.11,479.40 73.26,478.33 73.41,479.95 73.56,479.92 73.71,479.29 73.86,481.67 74.01,481.47 74.16,482.85 74.32,482.75 74.47,482.94 74.62,484.74 74.77,484.71 74.92,485.20 75.07,486.18 75.22,487.31 75.38,488.13 75.42,487.95 75.53,487.50 75.62,467.12 75.68,488.21 75.74,467.12 75.83,486.27 75.94,487.95 75.98,491.23 76.13,489.24 76.28,489.46 76.43,488.97 76.59,490.27 76.74,491.56 76.89,490.75 77.04,490.23 77.19,491.05 77.34,490.01 77.49,492.55 77.64,489.08 77.80,489.34 77.95,491.07 78.10,490.16 78.25,490.70 78.40,491.55 78.55,490.67 78.70,489.79 78.86,491.12 79.01,491.11 79.16,490.82 79.31,490.33 79.46,489.52 79.61,491.36 79.76,490.26 79.91,490.54 80.07,491.96 80.22,489.99 80.37,489.13 80.52,488.45 80.67,487.52 80.82,489.21 80.97,486.62 81.12,486.74 81.28,486.89 81.43,484.51 81.47,484.03 81.58,483.81 81.67,456.62 81.73,484.66 81.79,456.62 81.88,482.73 81.99,484.03 82.03,483.42 82.18,482.50 82.34,483.13 82.49,480.05 82.64,483.65 82.79,480.69 82.94,479.72 83.09,482.14 83.24,480.16 83.39,479.85 83.55,478.77 83.70,478.16 83.85,479.54 84.00,480.28 84.15,477.42 84.30,477.36 84.45,478.77 84.60,477.82 84.76,477.63 84.91,477.29 85.06,477.47 85.21,476.15 85.36,479.01 85.51,476.17 85.66,476.64 85.82,477.05 85.97,475.55 86.12,478.77 86.27,475.23 86.42,475.81 86.57,477.11 86.72,475.44 86.87,475.98 87.03,473.04 87.18,473.67 87.33,474.93 87.48,475.97 87.52,475.11 87.63,475.75 87.72,445.25 87.78,475.42 87.84,445.25 87.93,475.56 88.04,475.11 88.08,475.81 88.24,475.42 88.39,475.03 88.54,475.18 88.69,475.27 88.84,475.41 88.99,471.98 89.14,475.77 89.29,475.25 89.45,473.76 89.60,474.41 89.75,473.61 89.90,473.16 90.05,472.63 90.20,473.04 90.35,474.63 90.51,472.53 90.55,473.43 90.66,475.21 90.75,468.88 90.81,473.54 90.87,468.88 90.96,473.79 91.07,473.43 91.11,474.22 91.26,472.51 91.41,473.15 91.56,471.87 91.72,474.17 91.87,471.81 92.02,472.04 92.17,472.28 92.32,473.65 92.47,472.42 92.62,473.55 92.77,473.95 92.93,468.68 93.08,470.78 93.23,469.88 93.38,471.90 93.53,470.71 93.58,471.15 93.68,470.59 93.77,429.50 93.83,470.57 93.89,429.50 93.99,471.21 94.09,471.15 94.14,471.49 94.29,473.32 94.44,470.81 94.59,471.05 94.74,470.44 94.89,471.84 95.04,469.96 95.20,472.13 95.35,472.97 95.50,470.92 95.65,472.33 95.80,473.15 95.95,471.88 96.10,471.33 96.25,471.89 96.41,471.71 96.56,468.29 96.60,472.37 96.71,471.52 96.80,457.50 96.86,470.89 96.92,457.50 97.01,474.34 97.12,472.37 97.16,472.14 97.31,471.80 97.47,472.89 97.62,473.37 97.77,472.14 97.92,472.81 98.07,473.07 98.22,471.38 98.37,471.19 98.52,472.17 98.68,472.89 98.83,471.95 98.98,471.64 99.13,471.82 99.28,473.81 99.43,472.73 99.58,472.05 99.63,472.37 99.73,471.78 99.83,428.98 99.89,471.45 99.95,428.98 100.04,471.63 100.14,472.37 100.19,473.44 100.34,473.02 100.49,473.51 100.64,470.58 100.79,472.13 100.95,471.77 101.10,471.29 101.25,472.59 101.40,473.37 101.55,472.67 101.70,472.39 101.85,470.79 102.00,471.39 102.16,473.26 102.31,471.56 102.46,471.49 102.61,473.20 102.65,472.16 102.76,472.28 102.85,461.52 102.91,473.94 102.97,461.52 103.06,471.83 103.17,472.16 103.21,472.44 103.37,473.43 103.52,472.79 103.67,471.88 103.82,472.63 103.97,471.80 104.12,471.55 104.27,472.88 104.42,472.36 104.58,469.98 104.73,471.92 104.88,472.84 105.03,471.89 105.18,473.16 105.33,470.70 105.48,471.35 105.64,470.59 105.68,471.48 105.79,470.69 105.88,437.73 105.94,471.10 106.00,437.73 106.09,470.46 106.20,471.48 106.24,471.13 106.39,471.88 106.54,472.15 106.69,471.51 106.85,473.42 107.00,469.17 107.15,472.50 107.30,470.84 107.45,471.96 107.60,472.56 107.75,470.61 107.90,470.75 108.06,470.53 108.21,469.77 108.36,470.82 108.51,469.78 108.66,469.57 108.71,469.91 108.81,470.31 108.90,455.75 108.96,470.18 109.02,455.75 109.12,469.31 109.22,469.91 109.27,469.69 109.42,469.45 109.57,471.74 109.72,469.25 109.87,468.80 110.02,469.14 110.17,468.54 110.33,466.89 110.48,468.49 110.63,467.78 110.78,469.09 110.93,468.95 111.08,468.44 111.23,468.82 111.38,467.69 111.54,468.44 111.69,467.56 111.73,467.10 111.84,468.63 111.93,449.80 111.99,468.69 112.05,449.80 112.14,467.60 112.25,467.10 112.29,470.21 112.44,472.04 112.60,474.23 112.75,476.21 112.90,474.80 113.05,474.42 113.20,474.97 113.35,475.94 113.50,474.08 113.65,476.93 113.81,477.33 113.96,475.06 114.11,475.25 114.26,475.31 114.41,475.07 114.56,476.61 114.71,476.08 114.76,474.82 114.86,473.71 114.96,468.00 115.02,473.84 115.08,468.00 115.17,475.45 115.27,474.82 115.32,472.82 115.47,475.65 115.62,475.09 115.77,474.19 115.92,475.56 116.08,474.80 116.23,474.43 116.38,474.58 116.53,473.29 116.68,473.48 116.83,475.04 116.98,474.57 117.13,473.67 117.29,473.84 117.44,474.46 117.59,473.23 117.74,472.78 117.78,473.43 117.89,474.10 117.98,457.15 118.04,472.67 118.10,457.15 118.19,474.92 118.30,473.43 118.34,474.84 118.50,472.73 118.65,473.95 118.80,474.03 118.95,473.26 119.10,473.59 119.25,472.55 119.40,474.20 119.55,473.08 119.71,469.63 119.86,472.51 120.01,474.41 120.16,471.94 120.31,471.93 120.46,471.08 120.61,472.21 120.77,472.93 120.81,472.20 120.92,470.90 121.01,468.00 121.07,471.51 121.13,468.00 121.22,473.88 121.33,472.20 121.37,471.38 121.52,472.27 121.67,470.92 121.82,472.30 121.98,471.13 122.13,471.65 122.28,471.22 122.43,471.75 122.58,472.07 122.73,471.56 122.88,470.96 123.03,471.12 123.19,469.91 123.34,471.00 123.49,470.75 123.64,469.28 123.79,471.19 123.84,471.15 123.94,470.69 124.03,465.38 124.09,471.73 124.15,465.38 124.25,471.06 124.35,471.15 124.40,469.46 124.55,470.69 124.70,469.54 124.85,471.91 125.00,472.18 125.15,470.49 125.30,472.05 125.46,468.11 125.61,469.42 125.76,471.77 125.91,470.68 126.06,471.02 126.21,470.01 126.36,470.42 126.51,469.41 126.67,468.84 126.82,470.42 126.97,471.28 127.12,469.56 127.27,470.22 127.42,468.92 127.57,470.13 127.73,469.15 127.88,469.58 128.03,470.05 128.18,470.26 128.33,469.11 128.48,467.32 128.63,468.91 128.78,469.80 128.94,468.96 129.09,469.49 129.24,470.79 129.39,469.22 129.54,467.99 129.69,469.75 129.84,470.49 129.89,469.33 129.99,468.90 130.09,458.20 130.15,467.57 130.21,458.20 130.30,468.39 130.40,469.33 130.45,468.27 130.60,467.00 130.75,467.62 130.90,468.45 131.05,469.30 131.21,468.93 131.36,469.12 131.51,468.17 131.66,469.80 131.81,467.42 131.96,468.73 132.11,469.21 132.26,468.01 132.42,470.75 132.57,469.52 132.72,469.31 132.87,467.85 133.02,469.07 133.17,467.19 133.32,468.95 133.47,467.98 133.63,469.13 133.78,467.29 133.93,468.61 134.08,467.83 134.23,468.77 134.38,469.30 134.53,468.44 134.69,467.12 134.84,469.12 134.99,469.57 135.14,468.36 135.29,467.27 135.44,469.00 135.59,468.47 135.74,467.73 135.90,468.19 135.94,467.79 136.05,467.55 136.14,464.50 136.20,466.65 136.26,464.50 136.35,467.73 136.46,467.79 136.50,467.78 136.65,466.94 136.80,467.70 136.95,468.51 137.11,468.54 137.26,468.59 137.41,465.64 137.56,467.49 137.71,466.85 137.86,466.68 138.01,468.23 138.16,466.68 138.32,467.79 138.47,469.22 138.62,467.38 138.77,468.17 138.92,467.42 139.07,466.73 139.22,464.82 139.38,467.46 139.53,467.10 139.68,466.55 139.83,466.69 139.98,466.98 140.13,467.83 140.28,467.67 140.43,466.89 140.59,467.79 140.74,467.27 140.89,467.80 141.04,465.48 141.19,467.96 141.34,464.65 141.49,467.00 141.64,467.42 141.80,467.50 141.95,465.58 141.99,466.25 142.10,465.30 142.19,463.62 142.25,467.07 142.31,463.62 142.40,465.90 142.51,466.25 142.55,466.32 142.70,466.38 142.86,465.96 143.01,465.34 143.16,467.88 143.31,468.15 143.46,465.77 143.61,466.00 143.76,465.24 143.91,467.51 144.07,466.78 144.22,464.31 144.37,467.02 144.52,465.38 144.67,466.46 144.82,466.05 144.97,466.95 145.12,464.44 145.28,467.38 145.43,466.67 145.58,466.36 145.73,464.31 145.88,465.12 146.03,464.72 146.18,465.36 146.34,465.08 146.49,464.79 146.64,463.75 146.79,464.96 146.94,466.58 147.09,464.03 147.24,465.00 147.39,466.13 147.55,465.19 147.70,465.94 147.85,462.95 148.00,465.25 148.15,466.81 148.30,464.56 148.45,465.61 148.60,463.54 148.76,464.62 148.91,466.42 149.06,465.16 149.21,465.69 149.36,465.33 149.51,465.19 149.66,466.47 149.81,464.31 149.97,465.31 150.12,465.29 150.27,463.67 150.42,462.53 150.57,464.93 150.72,462.55 150.87,466.23 151.03,463.68 151.18,464.75 151.33,464.22 151.48,465.06 151.63,464.65 151.78,464.35 151.93,464.34 152.08,463.58 152.24,461.70 152.39,464.52 152.54,464.02 152.69,465.52 152.84,466.23 152.99,462.43 153.14,465.01 153.29,464.41 153.45,463.64 153.60,462.75 153.75,463.29 153.90,461.76 154.05,463.70 154.20,465.24 154.35,463.32 154.51,463.30 154.66,464.17 154.81,463.67 154.96,463.87 155.11,461.61 155.26,463.83 155.41,464.55 155.56,462.90 155.72,464.89 155.87,462.69 156.02,462.67 156.17,463.84 156.32,463.53 156.47,463.54 156.62,461.37 156.77,462.51 156.93,464.01 157.08,464.02 157.23,462.86 157.38,462.76 157.53,463.46 157.68,462.41 157.83,462.85 157.99,461.59 158.14,462.17 158.29,462.65 158.44,462.40 158.59,463.35 158.74,461.61 158.89,462.07 159.04,462.80 159.20,462.26 159.35,462.86 159.50,459.92 159.65,462.71 159.80,461.75 159.95,461.86 160.10,462.95 160.25,462.15 160.41,462.43 160.56,461.85 160.71,461.81 160.86,461.29 161.01,461.24 161.16,462.35 161.31,462.44 161.47,462.47 161.62,462.70 161.77,463.51 161.92,461.22 162.07,461.85 162.22,461.95 162.37,463.31 162.52,463.12 162.68,464.07 162.83,461.72 162.98,460.94 163.13,460.98 163.28,461.60 163.43,462.53 163.58,461.47 163.73,461.42 163.89,460.72 164.04,460.63 164.19,461.59 164.34,461.33 164.49,460.60 164.64,460.80 164.79,461.37 164.94,463.26 165.10,461.78 165.25,460.30 165.40,460.94 165.55,460.13 165.70,461.35 165.85,460.91 166.00,460.19 166.16,460.26 166.31,460.51 166.46,459.81 166.61,459.54 166.76,459.46 166.91,462.36 167.06,461.20 167.21,461.02 167.37,461.02 167.52,462.22 167.67,459.36 167.82,461.54 167.97,460.45 168.12,462.83 168.27,460.97 168.42,460.70 168.58,461.32 168.73,459.68 168.88,458.06 169.03,461.17 169.18,461.13 169.33,458.58 169.48,459.69 169.64,460.50 169.79,461.40 169.94,459.43 170.09,459.90 170.24,458.58 170.39,460.88 170.54,460.18 170.69,460.27 170.85,460.16 171.00,458.90 171.15,459.07 171.30,460.47 171.45,459.91 171.60,460.01 171.75,458.90 171.90,459.90 172.06,460.77 172.21,460.00 172.36,459.68 172.51,458.72 172.66,458.35 172.81,458.31 172.96,459.17 173.12,459.99 173.27,458.91 173.42,459.63 173.57,460.02 173.72,459.11 173.87,458.98 174.02,458.51 174.17,460.18 174.33,460.90 174.48,458.78 174.63,460.17 174.78,458.25 174.93,460.25 175.08,459.72 175.23,460.88 175.38,457.14 175.54,459.53 175.69,459.14 175.84,459.54 175.99,459.24 176.14,458.19 176.29,458.86 176.44,458.95 176.60,457.76 176.75,460.18 176.90,457.77 177.05,457.29 177.20,460.14 177.35,458.52 177.50,459.99 177.65,460.76 177.81,459.52 177.96,458.17 178.11,457.92 178.26,458.97 178.41,459.43 178.56,458.99 178.71,459.23 178.86,459.12 179.02,460.81 179.17,458.69 179.32,458.55 179.47,456.31 179.62,457.73 179.77,458.49 179.92,458.26 180.07,457.99 180.23,458.96 180.38,460.26 180.53,458.93 180.68,458.42 180.83,458.07 180.98,458.84 181.13,459.01 181.29,458.35 181.44,458.02 181.59,457.50 181.74,458.26 181.89,457.57 182.04,458.93 182.19,457.16 182.34,457.97 182.50,459.20 182.65,458.11 182.80,457.74 182.95,458.84 183.10,457.09 183.25,458.08 183.40,457.29 183.55,458.66 183.71,457.38 183.86,456.95 184.01,458.05 184.16,457.79 184.31,458.12 184.46,457.23 184.61,457.49 184.77,457.01 184.92,457.52 185.07,458.67 185.22,458.68 185.37,457.82 185.52,456.92 185.67,455.16 185.82,456.47 185.98,457.87 186.13,459.21 186.28,456.74 186.43,457.19 186.58,458.34 186.73,456.29 186.88,457.12 187.03,457.49 187.19,458.93 187.34,456.11 187.49,456.95 187.64,457.23 187.79,457.90 187.94,457.31 188.09,455.74 188.25,456.41 188.40,454.96 188.55,455.85 188.70,456.52 188.85,455.97 189.00,456.66 189.15,458.19 189.30,457.36 189.46,456.43 189.61,457.64 189.76,457.22 189.91,457.90 190.06,455.05 190.21,457.93 190.36,457.64 190.51,457.47 190.67,455.66 190.82,455.50 190.97,457.10 191.12,455.99 191.27,457.38 191.42,456.50 191.57,453.97 191.73,455.55 191.88,456.48 192.03,457.70 192.18,456.69 192.33,457.66 192.48,458.47 192.63,455.76 192.78,455.77 192.94,456.11 193.09,455.33 193.24,457.88 193.39,454.90 193.54,457.27 193.69,455.84 193.84,455.75 193.99,455.13 194.15,454.23 194.30,455.80 194.45,456.48 194.60,457.16 194.75,455.82 194.90,456.87 195.05,457.34 195.20,456.21 195.36,455.35 195.51,456.27 195.66,456.97 195.81,455.80 195.96,457.11 196.11,457.36 196.26,454.47 196.42,455.62 196.57,453.93 196.72,457.24 196.87,454.80 197.02,455.95 197.17,453.18 197.32,455.95 197.47,456.15 197.63,455.30 197.78,455.50 197.93,456.11 198.08,454.77 198.23,454.96 198.38,454.76 198.53,455.20 198.68,456.25 198.84,456.22 198.99,454.96 199.14,456.42 199.29,453.86 199.44,455.44 199.59,456.22 199.74,454.44 199.90,455.44 200.05,454.24 200.20,455.17 200.35,453.66 200.50,455.71 200.65,457.42 200.80,456.76 200.95,456.85 201.11,454.69 201.26,453.50 201.41,455.41 201.56,456.49 201.71,454.53 201.86,454.73 202.01,455.51 202.16,454.73 202.32,455.10 202.47,456.20 202.62,454.41 202.77,455.54 202.92,455.95 203.07,455.25 203.22,453.50 203.38,453.11 203.53,453.63 203.68,455.44 203.83,455.94 203.98,454.61 204.13,455.08 204.28,454.78 204.43,455.98 204.59,455.73 204.74,455.90 204.89,454.11 205.04,453.82 205.19,455.48 205.34,454.25 205.49,454.18 205.64,455.50 205.80,454.76 205.95,453.97 206.10,455.72 206.25,453.53 206.40,454.91 206.55,454.64 206.70,454.92 206.86,456.10 207.01,454.33 207.16,454.65 207.31,455.02 207.46,454.83 207.61,454.20 207.76,454.73 207.91,455.08 208.07,454.48 208.22,453.82 208.37,454.50 208.52,455.28 208.67,453.70 208.82,454.78 208.97,453.91 209.12,454.60 209.28,455.36 209.43,455.66 209.58,455.29 209.73,454.63 209.88,456.56 210.03,454.01 210.18,453.31 210.33,454.58 210.49,455.40 210.64,455.93 210.79,454.09 210.94,453.90 211.09,454.22 211.24,453.60 211.39,454.90 211.55,454.48 211.70,453.96 211.85,454.43 212.00,453.73 212.15,453.70 212.30,454.43 212.45,455.08 212.60,454.84 212.76,453.07 212.91,455.27 213.06,454.04 213.21,455.04 213.36,451.85 213.51,454.67 213.66,453.43 213.81,454.96 213.97,450.94 214.12,455.29 214.27,453.64 214.42,455.18 214.57,453.17 214.72,455.15 214.87,454.36 215.03,455.45 215.18,454.28 215.33,453.89 215.48,452.20 215.63,456.08 215.78,453.32 215.93,453.79 216.08,454.40 216.24,454.01 216.39,453.41"/>
<polyline fill="none" stroke="#dc3a1c" stroke-width="1.3" stroke-linejoin="round" points="71.14,470.65 71.29,471.62 71.44,472.04 71.59,473.76 71.74,472.91 71.90,474.01 72.05,475.03 72.20,475.78 72.35,475.81 72.50,477.61 72.65,476.15 72.80,477.29 72.95,478.10 73.11,479.00 73.26,479.19 73.41,478.74 73.56,480.95 73.71,480.34 73.86,481.23 74.01,481.44 74.16,481.11 74.32,482.23 74.47,483.65 74.62,484.17 74.77,483.84 74.92,484.88 75.07,487.10 75.22,485.91 75.38,486.31 75.42,487.95 75.53,487.34 75.62,468.00 75.68,488.13 75.74,468.00 75.83,488.22 75.94,487.95 75.98,488.27 76.13,487.25 76.28,490.17 76.43,490.41 76.59,491.89 76.74,489.87 76.89,490.50 77.04,491.17 77.19,490.03 77.34,491.71 77.49,490.26 77.64,491.10 77.80,489.80 77.95,490.32 78.10,490.13 78.25,490.82 78.40,491.40 78.55,490.03 78.70,489.92 78.86,491.24 79.01,491.53 79.16,490.41 79.31,490.78 79.46,490.61 79.61,491.35 79.76,490.08 79.91,491.52 80.07,489.26 80.22,489.72 80.37,489.04 80.52,488.52 80.67,489.16 80.82,488.22 80.97,487.46 81.12,486.42 81.28,485.51 81.43,485.30 81.47,484.03 81.58,484.74 81.67,471.50 81.73,483.66 81.79,471.50 81.88,482.90 81.99,484.03 82.03,482.99 82.18,483.24 82.34,482.53 82.49,480.96 82.64,482.16 82.79,481.43 82.94,480.37 83.09,479.93 83.24,480.24 83.39,479.91 83.55,479.42 83.70,479.91 83.85,479.77 84.00,478.23 84.15,478.26 84.30,478.19 84.45,479.10 84.60,478.33 84.76,477.83 84.91,478.29 85.06,477.37 85.21,476.31 85.36,477.77 85.51,477.31 85.66,477.02 85.82,477.14 85.97,476.58 86.12,476.76 86.27,476.18 86.42,476.22 86.57,475.24 86.72,475.30 86.87,475.80 87.03,475.49 87.18,474.96 87.33,474.76 87.48,476.90 87.52,475.11 87.63,475.38 87.72,458.55 87.78,475.55 87.84,458.55 87.93,474.95 88.04,475.11 88.08,475.22 88.24,475.43 88.39,475.86 88.54,474.36 88.69,474.09 88.84,474.68 88.99,474.33 89.14,474.71 89.29,474.61 89.45,473.64 89.60,473.91 89.75,474.53 89.90,473.42 90.05,472.99 90.20,473.50 90.35,473.32 90.51,473.27 90.66,473.07 90.81,473.59 90.96,472.58 91.11,471.99 91.26,473.25 91.41,473.15 91.56,473.82 91.72,472.47 91.87,472.75 92.02,472.42 92.17,471.60 92.32,472.29 92.47,474.18 92.62,471.69 92.77,472.06 92.93,472.75 93.08,471.55 93.23,470.71 93.38,470.80 93.53,470.28 93.58,471.15 93.68,469.82 93.77,447.70 93.83,470.69 93.89,447.70 93.99,471.29 94.09,471.15 94.14,470.69 94.29,470.81 94.44,472.48 94.59,470.72 94.74,472.32 94.89,470.77 95.04,471.07 95.20,471.60 95.35,471.24 95.50,472.62 95.65,472.79 95.80,471.41 95.95,471.65 96.10,471.91 96.25,472.49 96.41,472.47 96.56,472.13 96.71,471.80 96.86,473.20 97.01,472.56 97.16,472.36 97.31,473.56 97.47,473.56 97.62,472.51 97.77,472.72 97.92,471.93 98.07,472.05 98.22,472.09 98.37,472.26 98.52,471.01 98.68,472.13 98.83,473.12 98.98,472.48 99.13,471.41 99.28,471.87 99.43,472.10 99.58,471.32 99.63,472.37 99.73,472.15 99.83,453.65 99.89,471.63 99.95,453.65 100.04,472.58 100.14,472.37 100.19,472.07 100.34,471.89 100.49,472.84 100.64,473.33 100.79,473.23 100.95,472.90 101.10,471.76 101.25,472.47 101.40,472.15 101.55,472.64 101.70,472.34 101.85,472.02 102.00,472.65 102.16,472.37 102.31,472.32 102.46,472.57 102.61,472.42 102.76,472.01 102.91,473.83 103.06,471.31 103.21,470.91 103.37,472.24 103.52,472.72 103.67,472.27 103.82,471.72 103.97,471.73 104.12,473.17 104.27,472.01 104.42,472.20 104.58,471.23 104.73,472.61 104.88,471.76 105.03,472.46 105.18,472.29 105.33,471.94 105.48,471.28 105.64,471.02 105.68,471.48 105.79,472.39 105.88,462.05 105.94,472.36 106.00,462.05 106.09,471.98 106.20,471.48 106.24,470.81 106.39,471.75 106.54,470.28 106.69,472.55 106.85,471.08 107.00,470.96 107.15,471.05 107.30,470.73 107.45,469.83 107.60,471.04 107.75,470.66 107.90,470.72 108.06,471.08 108.21,469.52 108.36,469.61 108.51,470.31 108.66,470.01 108.81,469.15 108.96,470.47 109.12,469.71 109.27,469.31 109.42,470.32 109.57,469.77 109.72,469.59 109.87,469.95 110.02,469.15 110.17,468.84 110.33,469.20 110.48,467.88 110.63,468.14 110.78,467.90 110.93,467.85 111.08,467.06 111.23,467.94 111.38,467.79 111.54,468.59 111.69,466.96 111.73,467.10 111.84,467.38 111.93,461.88 111.99,467.06 112.05,461.88 112.14,466.83 112.25,467.10 112.29,469.30 112.44,470.62 112.60,473.96 112.75,476.58 112.90,475.98 113.05,476.30 113.20,475.84 113.35,475.42 113.50,475.28 113.65,474.91 113.81,473.91 113.96,476.05 114.11,475.38 114.26,474.73 114.41,475.33 114.56,474.73 114.71,475.89 114.86,474.85 115.02,473.41 115.17,474.97 115.32,474.87 115.47,474.01 115.62,473.94 115.77,473.35 115.92,473.41 116.08,474.05 116.23,472.94 116.38,475.20 116.53,474.11 116.68,473.23 116.83,473.84 116.98,473.69 117.13,473.26 117.29,473.57 117.44,473.56 117.59,473.40 117.74,473.89 117.78,473.43 117.89,473.69 117.98,466.25 118.04,472.51 118.10,466.25 118.19,474.00 118.30,473.43 118.34,473.31 118.50,473.36 118.65,472.72 118.80,473.06 118.95,472.53 119.10,473.17 119.25,472.60 119.40,473.29 119.55,473.09 119.71,472.22 119.86,471.96 120.01,471.17 120.16,472.69 120.31,472.10 120.46,472.50 120.61,472.56 120.77,473.05 120.92,472.52 121.07,472.59 121.22,471.88 121.37,472.20 121.52,471.88 121.67,473.00 121.82,472.12 121.98,472.30 122.13,472.14 122.28,471.42 122.43,471.54 122.58,472.10 122.73,472.88 122.88,471.61 123.03,472.11 123.19,471.95 123.34,471.57 123.49,471.44 123.64,471.96 123.79,471.69 123.84,471.15 123.94,470.48 124.03,468.88 124.09,471.47 124.15,468.88 124.25,470.63 124.35,471.15 124.40,470.06 124.55,471.34 124.70,470.34 124.85,471.43 125.00,470.66 125.15,470.71 125.30,470.79 125.46,470.86 125.61,470.64 125.76,470.97 125.91,470.96 126.06,469.44 126.21,470.74 126.36,469.44 126.51,470.62 126.67,470.18 126.82,469.51 126.97,469.66 127.12,470.79 127.27,470.42 127.42,470.71 127.57,468.98 127.73,469.98 127.88,469.61 128.03,470.64 128.18,469.08 128.33,470.42 128.48,469.03 128.63,469.98 128.78,469.13 128.94,468.80 129.09,469.82 129.24,469.78 129.39,470.02 129.54,468.80 129.69,469.01 129.84,469.82 129.89,469.33 129.99,470.40 130.09,467.12 130.15,470.38 130.21,467.12 130.30,469.54 130.40,469.33 130.45,470.10 130.60,469.60 130.75,468.66 130.90,467.84 131.05,469.53 131.21,470.39 131.36,469.10 131.51,470.20 131.66,469.52 131.81,469.03 131.96,468.90 132.11,468.62 132.26,468.13 132.42,468.53 132.57,469.58 132.72,468.56 132.87,468.68 133.02,469.25 133.17,467.79 133.32,468.78 133.47,469.00 133.63,468.88 133.78,468.59 133.93,468.38 134.08,468.98 134.23,468.14 134.38,468.05 134.53,468.43 134.69,468.10 134.84,467.74 134.99,467.86 135.14,468.63 135.29,468.07 135.44,467.50 135.59,467.38 135.74,468.32 135.90,468.59 136.05,467.73 136.20,468.19 136.35,467.79 136.50,467.88 136.65,467.65 136.80,467.77 136.95,467.31 137.11,466.08 137.26,468.42 137.41,468.39 137.56,467.39 137.71,467.24 137.86,466.19 138.01,468.68 138.16,467.01 138.32,467.02 138.47,466.95 138.62,468.07 138.77,466.83 138.92,466.38 139.07,467.70 139.22,465.94 139.38,467.29 139.53,467.02 139.68,466.68 139.83,466.68 139.98,467.71 140.13,466.56 140.28,466.04 140.43,465.96 140.59,466.58 140.74,466.04 140.89,466.70 141.04,466.13 141.19,465.71 141.34,464.96 141.49,466.31 141.64,466.21 141.80,466.98 141.95,466.75 142.10,465.63 142.25,465.50 142.40,466.92 142.55,466.07 142.70,466.21 142.86,465.87 143.01,465.50 143.16,465.98 143.31,466.66 143.46,465.94 143.61,465.39 143.76,465.74 143.91,465.91 144.07,466.07 144.22,466.28 144.37,465.31 144.52,465.87 144.67,465.74 144.82,466.17 144.97,464.76 145.12,465.61 145.28,465.91 145.43,464.95 145.58,465.91 145.73,464.10 145.88,464.44 146.03,465.26 146.18,465.62 146.34,465.57 146.49,465.22 146.64,464.49 146.79,465.34 146.94,464.92 147.09,465.54 147.24,464.60 147.39,465.50 147.55,464.90 147.70,465.42 147.85,465.17 148.00,464.38 148.15,464.14 148.30,464.79 148.45,463.20 148.60,464.67 148.76,464.69 148.91,463.88 149.06,464.93 149.21,465.14 149.36,464.17 149.51,464.85 149.66,463.63 149.81,464.10 149.97,464.20 150.12,464.03 150.27,464.90 150.42,465.10 150.57,464.84 150.72,464.58 150.87,465.48 151.03,464.76 151.18,464.81 151.33,464.96 151.48,464.89 151.63,464.51 151.78,463.49 151.93,463.54 152.08,463.53 152.24,462.00 152.39,463.33 152.54,463.16 152.69,463.03 152.84,463.75 152.99,463.44 153.14,463.92 153.29,463.34 153.45,465.17 153.60,463.41 153.75,463.47 153.90,465.73 154.05,462.87 154.20,462.88 154.35,464.36 154.51,464.58 154.66,462.84 154.81,463.81 154.96,464.32 155.11,464.10 155.26,463.70 155.41,462.15 155.56,463.18 155.72,463.33 155.87,463.06 156.02,462.75 156.17,463.66 156.32,461.90 156.47,463.11 156.62,463.30 156.77,463.14 156.93,462.90 157.08,463.43 157.23,462.04 157.38,463.59 157.53,461.48 157.68,461.59 157.83,463.82 157.99,461.87 158.14,461.53 158.29,462.86 158.44,461.71 158.59,462.60 158.74,461.71 158.89,462.71 159.04,462.50 159.20,462.24 159.35,463.02 159.50,462.15 159.65,462.45 159.80,462.60 159.95,462.43 160.10,462.56 160.25,462.57 160.41,462.76 160.56,461.62 160.71,461.67 160.86,461.69 161.01,461.86 161.16,462.14 161.31,462.61 161.47,461.39 161.62,461.41 161.77,462.28 161.92,460.81 162.07,462.55 162.22,461.02 162.37,462.41 162.52,461.81 162.68,462.95 162.83,461.39 162.98,461.44 163.13,462.33 163.28,461.84 163.43,461.81 163.58,460.68 163.73,461.12 163.89,461.57 164.04,460.73 164.19,461.80 164.34,460.84 164.49,461.06 164.64,461.55 164.79,462.40 164.94,461.01 165.10,461.58 165.25,460.83 165.40,460.94 165.55,462.39 165.70,461.01 165.85,461.09 166.00,460.01 166.16,461.59 166.31,462.04 166.46,461.84 166.61,460.06 166.76,461.29 166.91,458.48 167.06,461.40 167.21,460.93 167.37,461.14 167.52,461.13 167.67,460.02 167.82,460.79 167.97,459.85 168.12,459.49 168.27,460.25 168.42,460.26 168.58,459.81 168.73,460.24 168.88,459.19 169.03,460.60 169.18,459.95 169.33,460.86 169.48,459.95 169.64,460.16 169.79,460.55 169.94,460.43 170.09,459.73 170.24,459.99 170.39,458.50 170.54,460.13 170.69,460.74 170.85,459.73 171.00,459.37 171.15,460.12 171.30,459.67 171.45,460.27 171.60,460.37 171.75,459.02 171.90,460.16 172.06,460.32 172.21,460.38 172.36,459.84 172.51,458.16 172.66,459.54 172.81,459.44 172.96,459.86 173.12,459.67 173.27,459.25 173.42,459.84 173.57,458.74 173.72,459.03 173.87,459.90 174.02,459.74 174.17,459.12 174.33,458.77 174.48,459.41 174.63,459.57 174.78,459.66 174.93,459.45 175.08,459.09 175.23,458.71 175.38,460.10 175.54,459.41 175.69,458.97 175.84,459.06 175.99,458.58 176.14,458.36 176.29,458.95 176.44,458.92 176.60,458.63 176.75,459.84 176.90,458.95 177.05,458.52 177.20,458.65 177.35,458.77 177.50,458.96 177.65,458.32 177.81,458.69 177.96,458.81 178.11,458.38 178.26,459.03 178.41,457.96 178.56,458.07 178.71,458.51 178.86,458.99 179.02,458.61 179.17,458.28 179.32,458.96 179.47,458.83 179.62,458.51 179.77,458.32 179.92,457.96 180.07,457.27 180.23,458.67 180.38,457.16 180.53,458.52 180.68,458.53 180.83,457.71 180.98,458.55 181.13,458.46 181.29,457.76 181.44,458.67 181.59,457.72 181.74,457.72 181.89,457.99 182.04,459.26 182.19,456.81 182.34,458.16 182.50,457.04 182.65,458.23 182.80,458.47 182.95,456.27 183.10,458.61 183.25,456.97 183.40,457.86 183.55,457.79 183.71,457.84 183.86,457.31 184.01,457.97 184.16,456.60 184.31,458.62 184.46,457.81 184.61,457.14 184.77,456.73 184.92,456.80 185.07,457.88 185.22,457.72 185.37,457.48 185.52,457.72 185.67,457.84 185.82,456.04 185.98,456.29 186.13,457.98 186.28,456.92 186.43,457.02 186.58,457.43 186.73,457.73 186.88,455.93 187.03,456.47 187.19,456.52 187.34,456.98 187.49,457.49 187.64,456.37 187.79,457.79 187.94,457.73 188.09,456.89 188.25,457.18 188.40,456.98 188.55,457.08 188.70,457.91 188.85,457.73 189.00,457.06 189.15,457.17 189.30,456.72 189.46,456.92 189.61,457.01 189.76,457.19 189.91,456.57 190.06,456.00 190.21,455.68 190.36,457.03 190.51,455.79 190.67,456.77 190.82,456.24 190.97,456.57 191.12,455.79 191.27,456.93 191.42,456.15 191.57,456.57 191.73,457.79 191.88,457.20 192.03,456.70 192.18,457.28 192.33,456.82 192.48,455.64 192.63,456.15 192.78,456.68 192.94,454.70 193.09,456.26 193.24,456.04 193.39,456.70 193.54,455.79 193.69,456.80 193.84,455.85 193.99,456.39 194.15,456.39 194.30,456.09 194.45,455.27 194.60,456.96 194.75,456.13 194.90,456.07 195.05,455.49 195.20,456.76 195.36,455.79 195.51,455.77 195.66,455.99 195.81,455.66 195.96,456.17 196.11,454.46 196.26,455.83 196.42,455.71 196.57,455.71 196.72,455.65 196.87,455.53 197.02,455.18 197.17,456.06 197.32,454.58 197.47,456.95 197.63,455.41 197.78,455.72 197.93,456.07 198.08,456.42 198.23,455.92 198.38,455.66 198.53,456.15 198.68,456.00 198.84,456.65 198.99,455.53 199.14,455.56 199.29,455.31 199.44,455.88 199.59,455.13 199.74,455.99 199.90,454.85 200.05,455.21 200.20,454.88 200.35,455.17 200.50,454.67 200.65,455.29 200.80,455.37 200.95,455.71 201.11,455.00 201.26,455.72 201.41,455.38 201.56,455.26 201.71,454.77 201.86,455.38 202.01,454.37 202.16,455.27 202.32,454.97 202.47,455.52 202.62,455.15 202.77,454.01 202.92,455.66 203.07,454.40 203.22,455.32 203.38,454.28 203.53,454.67 203.68,454.52 203.83,454.79 203.98,455.72 204.13,454.41 204.28,455.24 204.43,455.68 204.59,455.03 204.74,455.30 204.89,454.37 205.04,454.40 205.19,454.76 205.34,454.06 205.49,454.24 205.64,455.10 205.80,454.44 205.95,454.65 206.10,454.62 206.25,455.23 206.40,454.53 206.55,455.18 206.70,455.61 206.86,454.89 207.01,454.83 207.16,454.85 207.31,453.68 207.46,453.71 207.61,453.91 207.76,454.20 207.91,454.39 208.07,455.18 208.22,453.22 208.37,454.59 208.52,454.00 208.67,453.55 208.82,454.55 208.97,454.69 209.12,454.14 209.28,455.60 209.43,454.90 209.58,454.53 209.73,453.64 209.88,453.87 210.03,454.59 210.18,454.09 210.33,454.88 210.49,453.77 210.64,455.25 210.79,454.33 210.94,453.63 211.09,454.14 211.24,454.21 211.39,453.16 211.55,454.73 211.70,454.73 211.85,454.98 212.00,454.88 212.15,454.78 212.30,453.33 212.45,455.03 212.60,454.16 212.76,454.94 212.91,453.87 213.06,454.82 213.21,453.67 213.36,454.28 213.51,454.91 213.66,454.83 213.81,454.70 213.97,452.89 214.12,453.79 214.27,453.98 214.42,453.72 214.57,453.36 214.72,454.00 214.87,453.55 215.03,454.02 215.18,453.21 215.33,454.43 215.48,453.82 215.63,453.36 215.78,454.47 215.93,453.37 216.08,454.00 216.24,453.67 216.39,454.65"/>
<text x="63.70" y="495.90" font-size="9.5" text-anchor="end">10</text>
<text x="63.70" y="478.40" font-size="9.5" text-anchor="end">20</text>
<text x="63.70" y="460.90" font-size="9.5" text-anchor="end">30</text>
<text x="63.70" y="443.40" font-size="9.5" text-anchor="end">40</text>
<text x="63.70" y="425.90" font-size="9.5" text-anchor="end">50</text>
<text x="63.70" y="408.40" font-size="9.5" text-anchor="end">60</text>
<text x="63.70" y="390.90" font-size="9.5" text-anchor="end">70</text>
<text x="63.70" y="373.40" font-size="9.5" text-anchor="end">80</text>
<text x="67.35" y="504.10" font-size="9.5" text-anchor="middle">0</text>
<text x="97.57" y="504.10" font-size="9.5" text-anchor="middle">200</text>
<text x="127.79" y="504.10" font-size="9.5" text-anchor="middle">400</text>
<text x="158.01" y="504.10" font-size="9.5" text-anchor="middle">600</text>
<text x="188.23" y="504.10" font-size="9.5" text-anchor="middle">800</text>
<text x="218.45" y="504.10" font-size="9.5" text-anchor="middle">1000</text>
<text x="144.75" y="520.30" font-size="10" text-anchor="middle">frequency (MHz)</text>
<text transform="translate(40.90,429.75) rotate(-90)" font-size="10" text-anchor="middle">noise level (dBµV/m)</text>
<line x1="220.40" y1="420.00" x2="235.20" y2="420.00" stroke="#1d2b8c" stroke-width="1.6"/>
<line x1="220.40" y1="433.80" x2="235.20" y2="433.80" stroke="#dc3a1c" stroke-width="1.6"/>
<text x="239.00" y="423.40" font-size="10">H</text>
<text x="239.00" y="437.30" font-size="10">V</text>
<line x1="126.1" y1="397.3" x2="109.7" y2="428" stroke="#3f8fe3" stroke-width="1.3"/>
<circle cx="109.7" cy="428" r="2.3" fill="#3f8fe3"/>
<rect x="103.9" y="350.7" width="110.6" height="46.6" rx="3" ry="3" fill="#fff" stroke="#3f8fe3" stroke-width="1.25" stroke-dasharray="1.3 1.5"/>
<text x="109.2" y="364.50" font-size="13">Some emission</text>
<text x="109.2" y="378.70" font-size="13">appears because</text>
<text x="109.2" y="392.90" font-size="13">of no shield.</text>
<text x="52" y="551" font-size="16">(b) Balanced cable only</text>
<g fill="#4a8fe0"><text x="290.2" y="235.2" font-size="13" style="fill:#4a8fe0">The cable is</text><text x="290.2" y="248.9" font-size="13" style="fill:#4a8fe0">changed in</text><text x="290.2" y="262.8" font-size="13" style="fill:#4a8fe0">the half way.</text></g>
<rect x="303.4" y="281.1" width="26" height="17.5" fill="url(#ag)"/>
<polygon points="328.6,271.4 350.6,290.2 328.6,309" fill="#4a88c9"/>
<rect x="421.60" y="151.90" width="77.70" height="6.4" fill="#f4a30a" stroke="#5e6068" stroke-width="0.9"/>
<rect x="499.30" y="152.10" width="78.30" height="2.1" fill="#86bd66" stroke="#686868" stroke-width="0.7"/>
<rect x="499.30" y="156.40" width="78.30" height="2.1" fill="#86bd66" stroke="#686868" stroke-width="0.7"/>
<rect x="418.00" y="146.00" width="3.8" height="18" fill="#eef1f6" stroke="#747474" stroke-width="0.9"/>
<rect x="380.80" y="139.70" width="37.3" height="30.9" rx="4.2" ry="4.2" fill="#e8ecf3" stroke="#6c6c6c" stroke-width="1.1"/>
<text x="399.60" y="153.60" font-size="10.2" text-anchor="middle">20MHz</text>
<polyline fill="none" stroke="#666" stroke-width="1.1" points="390.00,164.80 395.40,164.80 395.40,159.10 404.00,159.10 404.00,164.80 409.00,164.80"/>
<line x1="499.2" y1="150" x2="507.6" y2="136.8" stroke="#3f8fe3" stroke-width="1.3"/>
<line x1="499.3" y1="159.9" x2="492.4" y2="173" stroke="#3f8fe3" stroke-width="1.3"/>
<circle cx="499.2" cy="150" r="2.3" fill="#3f8fe3"/><circle cx="499.3" cy="159.9" r="2.3" fill="#3f8fe3"/>
<text x="426" y="132" font-size="12">Coaxial cable</text>
<text x="426" y="144.6" font-size="12">25cm</text>
<text x="510.4" y="132" font-size="12">Connected to the</text>
<text x="510.4" y="145" font-size="12">central conductor</text>
<text x="579.6" y="158.8" font-size="12">Open end</text>
<text x="503.6" y="171.3" font-size="12">Balanced cable</text>
<text x="503.6" y="183.8" font-size="12">25cm</text>
<text x="414.2" y="181.7" font-size="12">Connected to</text>
<text x="414.2" y="195.3" font-size="12">the outer conductor</text>
<rect x="435.00" y="240.40" width="149.30" height="121.40" fill="#fff"/>
<line x1="464.80" y1="240.40" x2="464.80" y2="361.80" stroke="#c9c9c9" stroke-width="1"/>
<line x1="494.60" y1="240.40" x2="494.60" y2="361.80" stroke="#c9c9c9" stroke-width="1"/>
<line x1="524.60" y1="240.40" x2="524.60" y2="361.80" stroke="#c9c9c9" stroke-width="1"/>
<line x1="554.70" y1="240.40" x2="554.70" y2="361.80" stroke="#c9c9c9" stroke-width="1"/>
<line x1="435.00" y1="345.40" x2="584.30" y2="345.40" stroke="#5a524e" stroke-width="1"/>
<line x1="435.00" y1="327.10" x2="584.30" y2="327.10" stroke="#5a524e" stroke-width="1"/>
<line x1="435.00" y1="309.50" x2="584.30" y2="309.50" stroke="#5a524e" stroke-width="1"/>
<line x1="435.00" y1="292.50" x2="584.30" y2="292.50" stroke="#5a524e" stroke-width="1"/>
<line x1="435.00" y1="274.50" x2="584.30" y2="274.50" stroke="#5a524e" stroke-width="1"/>
<line x1="435.00" y1="256.60" x2="584.30" y2="256.60" stroke="#5a524e" stroke-width="1"/>
<path d="M435.00 240.40 H584.30" stroke="#cfcfcf" stroke-width="1" fill="none"/>
<path d="M435.00 361.80 H584.30" stroke="#cfcfcf" stroke-width="1" fill="none"/>
<path d="M435.00 239.90 V362.30" stroke="#cfcfcf" stroke-width="1" fill="none"/>
<path d="M584.30 239.90 V362.30" stroke="#cfcfcf" stroke-width="1.5" fill="none"/>
<line x1="464.80" y1="360.10" x2="464.80" y2="361.30" stroke="#333" stroke-width="0.9"/>
<line x1="494.60" y1="360.10" x2="494.60" y2="361.30" stroke="#333" stroke-width="0.9"/>
<line x1="524.60" y1="360.10" x2="524.60" y2="361.30" stroke="#333" stroke-width="0.9"/>
<line x1="554.70" y1="360.10" x2="554.70" y2="361.30" stroke="#333" stroke-width="0.9"/>
<line x1="435.40" y1="361.80" x2="436.90" y2="361.80" stroke="#333" stroke-width="0.9"/>
<line x1="435.40" y1="345.40" x2="436.90" y2="345.40" stroke="#333" stroke-width="0.9"/>
<line x1="435.40" y1="327.10" x2="436.90" y2="327.10" stroke="#333" stroke-width="0.9"/>
<line x1="435.40" y1="309.50" x2="436.90" y2="309.50" stroke="#333" stroke-width="0.9"/>
<line x1="435.40" y1="292.50" x2="436.90" y2="292.50" stroke="#333" stroke-width="0.9"/>
<line x1="435.40" y1="274.50" x2="436.90" y2="274.50" stroke="#333" stroke-width="0.9"/>
<line x1="435.40" y1="256.60" x2="436.90" y2="256.60" stroke="#333" stroke-width="0.9"/>
<line x1="435.40" y1="240.40" x2="436.90" y2="240.40" stroke="#333" stroke-width="0.9"/>
<polyline fill="none" stroke="#1d2b8c" stroke-width="1.3" stroke-linejoin="round" points="438.64,339.75 438.79,341.56 438.94,342.40 439.09,344.79 439.24,343.77 439.40,344.35 439.55,344.60 439.70,345.63 439.85,345.58 440.00,346.50 440.15,347.81 440.30,346.22 440.45,346.75 440.61,346.48 440.76,348.60 440.91,349.56 441.06,350.22 441.21,351.71 441.36,349.80 441.51,352.33 441.67,352.94 441.82,352.59 441.97,351.56 442.12,353.36 442.27,355.17 442.42,355.46 442.57,354.77 442.72,356.12 442.88,357.30 442.92,357.75 443.03,357.38 443.12,288.80 443.18,357.03 443.24,288.80 443.33,356.31 443.44,357.75 443.48,359.88 443.63,359.75 443.78,360.39 443.93,362.41 444.09,361.44 444.24,361.54 444.39,359.47 444.54,360.68 444.69,362.11 444.84,359.93 444.99,360.89 445.14,362.23 445.30,361.12 445.45,361.12 445.60,361.39 445.75,360.52 445.90,362.71 445.95,360.55 446.05,360.81 446.14,337.80 446.20,359.57 446.26,337.80 446.36,359.73 446.46,360.55 446.51,359.48 446.66,359.47 446.81,359.12 446.96,361.63 447.11,359.74 447.26,362.34 447.41,361.13 447.57,361.81 447.72,358.37 447.87,357.52 448.02,358.41 448.17,355.93 448.32,357.70 448.47,356.32 448.62,355.74 448.78,356.32 448.93,354.39 448.97,353.83 449.08,352.45 449.17,273.05 449.23,354.82 449.29,273.05 449.38,352.47 449.49,353.83 449.53,353.00 449.68,350.66 449.84,351.40 449.99,350.73 450.14,350.27 450.29,350.16 450.44,351.54 450.59,348.65 450.74,351.10 450.89,349.34 451.05,348.77 451.20,349.97 451.35,348.81 451.50,347.62 451.65,348.56 451.80,349.19 451.95,350.93 452.00,347.80 452.10,348.90 452.20,316.80 452.26,348.36 452.32,316.80 452.41,348.13 452.51,347.80 452.56,348.39 452.71,346.94 452.86,347.69 453.01,347.08 453.16,346.15 453.32,347.47 453.47,346.77 453.62,344.24 453.77,345.31 453.92,347.23 454.07,345.90 454.22,345.11 454.37,344.30 454.53,345.18 454.68,345.75 454.83,345.86 454.98,344.45 455.02,344.91 455.13,344.69 455.22,267.80 455.28,345.40 455.34,267.80 455.43,345.00 455.54,344.91 455.58,345.14 455.74,343.96 455.89,345.23 456.04,344.02 456.19,343.58 456.34,343.85 456.49,345.04 456.64,342.85 456.80,344.72 456.95,343.57 457.10,344.62 457.25,345.49 457.40,343.51 457.55,343.37 457.70,343.64 457.85,343.21 458.01,344.02 458.05,343.23 458.16,344.02 458.25,316.80 458.31,343.39 458.37,316.80 458.46,341.27 458.57,343.23 458.61,342.21 458.76,343.38 458.91,342.23 459.06,343.12 459.22,342.98 459.37,341.60 459.52,342.82 459.67,343.81 459.82,342.96 459.97,341.89 460.12,341.74 460.27,340.55 460.43,342.32 460.58,340.81 460.73,341.00 460.88,341.43 461.03,340.37 461.08,340.95 461.18,340.59 461.27,278.30 461.33,341.78 461.39,278.30 461.49,339.98 461.59,340.95 461.64,342.25 461.79,341.08 461.94,341.19 462.09,340.85 462.24,342.01 462.39,341.41 462.54,341.57 462.70,340.54 462.85,342.32 463.00,341.55 463.15,341.93 463.30,342.99 463.45,339.23 463.60,341.93 463.75,343.35 463.91,340.63 464.06,343.08 464.10,342.17 464.21,341.75 464.30,296.68 464.36,341.34 464.42,296.68 464.51,342.85 464.62,342.17 464.66,342.70 464.81,342.87 464.97,342.46 465.12,343.89 465.27,343.51 465.42,342.44 465.57,341.30 465.72,341.68 465.87,340.61 466.02,341.60 466.18,342.75 466.33,342.36 466.48,344.19 466.63,343.15 466.78,343.20 466.93,341.94 467.08,341.57 467.13,342.17 467.23,342.72 467.33,243.30 467.39,342.74 467.45,243.30 467.54,343.65 467.64,342.17 467.69,342.27 467.84,341.90 467.99,341.70 468.14,342.87 468.29,340.19 468.45,340.95 468.60,342.18 468.75,342.58 468.90,342.38 469.05,341.91 469.20,342.06 469.35,341.57 469.50,341.28 469.66,340.70 469.81,340.90 469.96,342.10 470.11,341.61 470.15,341.96 470.26,342.34 470.35,278.30 470.41,342.53 470.47,278.30 470.56,340.11 470.67,341.96 470.71,342.38 470.87,340.01 471.02,342.26 471.17,341.67 471.32,340.85 471.47,341.86 471.62,341.50 471.77,342.10 471.93,342.31 472.08,342.01 472.23,342.46 472.38,340.25 472.53,341.91 472.68,340.01 472.83,344.17 472.98,341.49 473.14,340.89 473.18,341.28 473.29,341.64 473.38,259.75 473.44,340.22 473.50,259.75 473.59,340.58 473.70,341.28 473.74,341.38 473.89,340.62 474.04,338.26 474.19,340.64 474.35,340.52 474.50,341.15 474.65,340.52 474.80,341.81 474.95,340.68 475.10,338.05 475.25,339.31 475.40,339.64 475.56,339.12 475.71,338.29 475.86,339.45 476.01,337.95 476.16,338.83 476.21,339.71 476.31,339.63 476.40,283.55 476.46,338.05 476.52,283.55 476.62,341.90 476.72,339.71 476.77,340.10 476.92,339.15 477.07,340.13 477.22,339.26 477.37,339.58 477.52,339.44 477.67,336.06 477.83,337.91 477.98,338.42 478.13,336.96 478.28,338.30 478.43,337.08 478.58,337.44 478.73,336.07 478.88,338.85 479.04,336.60 479.19,337.07 479.23,336.90 479.34,338.16 479.43,279.53 479.49,335.87 479.55,279.53 479.64,337.59 479.75,336.90 479.79,337.42 479.94,340.72 480.10,342.77 480.25,345.60 480.40,344.73 480.55,347.33 480.70,345.39 480.85,346.00 481.00,345.05 481.15,345.30 481.31,344.59 481.46,345.92 481.61,343.27 481.76,342.75 481.91,345.11 482.06,344.85 482.21,344.49 482.26,344.62 482.36,343.48 482.46,287.57 482.52,342.80 482.58,287.57 482.67,345.72 482.77,344.62 482.82,345.08 482.97,345.44 483.12,345.42 483.27,345.85 483.42,343.86 483.58,345.25 483.73,342.62 483.88,343.12 484.03,344.92 484.18,344.85 484.33,344.37 484.48,342.37 484.63,344.46 484.79,345.01 484.94,343.55 485.09,343.08 485.24,344.00 485.28,343.23 485.39,341.74 485.48,286.18 485.54,342.99 485.60,286.18 485.69,342.72 485.80,343.23 485.84,343.91 486.00,343.05 486.15,343.10 486.30,345.06 486.45,342.53 486.60,344.46 486.75,342.69 486.90,344.01 487.06,340.58 487.21,342.16 487.36,341.59 487.51,341.48 487.66,343.59 487.81,344.46 487.96,342.53 488.11,341.29 488.27,342.02 488.31,342.00 488.42,341.30 488.51,298.07 488.57,341.10 488.63,298.07 488.72,343.38 488.83,342.00 488.87,341.62 489.02,339.95 489.17,342.34 489.32,343.69 489.48,341.91 489.63,342.08 489.78,341.18 489.93,342.39 490.08,341.39 490.23,343.56 490.38,340.55 490.53,339.79 490.69,340.02 490.84,342.67 490.99,340.85 491.14,343.98 491.29,340.78 491.34,340.95 491.44,341.06 491.53,299.65 491.59,341.91 491.65,299.65 491.75,340.57 491.85,340.95 491.90,340.71 492.05,339.89 492.20,340.62 492.35,340.46 492.50,342.51 492.65,341.70 492.80,340.99 492.96,340.19 493.11,340.43 493.26,338.93 493.41,341.16 493.56,340.50 493.71,339.97 493.86,340.39 494.01,339.63 494.17,340.61 494.32,338.64 494.36,339.90 494.47,340.26 494.56,300.35 494.62,338.83 494.68,300.35 494.77,339.89 494.88,339.90 494.92,338.39 495.07,341.13 495.23,339.25 495.38,340.12 495.53,339.45 495.68,338.48 495.83,340.69 495.98,340.83 496.13,340.48 496.28,339.23 496.44,341.25 496.59,339.31 496.74,340.60 496.89,340.42 497.04,339.64 497.19,338.88 497.34,339.81 497.39,339.13 497.49,339.64 497.59,294.05 497.65,339.17 497.71,294.05 497.80,339.35 497.90,339.13 497.95,341.63 498.10,339.43 498.25,338.89 498.40,337.88 498.55,336.93 498.71,338.22 498.86,338.75 499.01,339.71 499.16,338.66 499.31,337.96 499.46,337.45 499.61,339.48 499.76,338.36 499.92,337.77 500.07,336.72 500.22,338.23 500.37,338.96 500.41,338.36 500.52,339.06 500.61,302.80 500.67,338.70 500.73,302.80 500.82,338.95 500.93,338.36 500.97,337.49 501.13,337.22 501.28,337.51 501.43,337.02 501.58,338.57 501.73,337.72 501.88,338.42 502.03,337.97 502.19,336.80 502.34,337.97 502.49,339.69 502.64,338.10 502.79,338.51 502.94,339.23 503.09,338.50 503.24,336.78 503.40,336.05 503.44,337.59 503.55,338.10 503.64,306.82 503.70,336.63 503.76,306.82 503.85,336.42 503.96,337.59 504.00,338.63 504.15,337.51 504.30,337.48 504.45,337.23 504.61,338.89 504.76,337.66 504.91,336.26 505.06,336.03 505.21,335.44 505.36,337.49 505.51,335.33 505.66,336.45 505.82,338.36 505.97,336.28 506.12,337.31 506.27,336.44 506.42,337.00 506.47,336.82 506.57,335.70 506.66,330.80 506.72,336.57 506.78,330.80 506.88,337.05 506.98,336.82 507.03,335.81 507.18,336.46 507.33,337.06 507.48,335.40 507.63,336.98 507.78,337.16 507.93,337.03 508.09,337.88 508.24,336.97 508.39,334.61 508.54,337.23 508.69,336.31 508.84,337.35 508.99,336.83 509.14,334.74 509.30,335.30 509.45,336.71 509.49,336.05 509.60,336.08 509.69,319.07 509.75,336.85 509.81,319.07 509.90,336.77 510.01,336.05 510.05,336.86 510.20,336.81 510.36,335.60 510.51,335.30 510.66,335.37 510.81,335.97 510.96,337.08 511.11,335.80 511.26,336.59 511.41,334.82 511.57,335.09 511.72,334.88 511.87,335.90 512.02,337.27 512.17,334.57 512.32,334.27 512.47,336.85 512.62,335.25 512.78,334.20 512.93,336.35 513.08,333.58 513.23,335.58 513.38,336.25 513.53,333.85 513.68,334.86 513.84,335.73 513.99,334.22 514.14,336.92 514.29,333.25 514.44,335.75 514.59,334.65 514.74,335.28 514.89,334.44 515.05,333.97 515.20,335.58 515.35,334.00 515.50,335.00 515.54,334.65 515.65,335.35 515.74,331.68 515.80,334.87 515.86,331.68 515.95,335.58 516.06,334.65 516.10,335.35 516.26,333.63 516.41,334.66 516.56,333.38 516.71,334.02 516.86,335.39 517.01,336.20 517.16,335.00 517.32,334.05 517.47,334.26 517.62,335.03 517.77,333.22 517.92,335.84 518.07,335.34 518.22,333.97 518.37,331.94 518.53,333.62 518.57,333.95 518.68,334.95 518.77,330.80 518.83,333.38 518.89,330.80 518.98,333.26 519.09,333.95 519.13,332.98 519.28,334.24 519.43,334.58 519.58,333.66 519.74,333.34 519.89,332.17 520.04,331.66 520.19,334.34 520.34,334.10 520.49,333.63 520.64,333.77 520.79,333.03 520.95,332.99 521.10,333.18 521.25,332.10 521.40,333.51 521.55,334.33 521.60,333.25 521.70,334.79 521.79,329.93 521.85,334.24 521.91,329.93 522.01,334.22 522.11,333.25 522.16,334.99 522.31,332.51 522.46,332.93 522.61,333.48 522.76,333.90 522.91,334.53 523.06,333.86 523.22,331.16 523.37,335.03 523.52,332.73 523.67,332.11 523.82,332.66 523.97,333.06 524.12,331.99 524.27,333.75 524.43,332.12 524.58,331.24 524.62,332.55 524.73,333.59 524.82,328.18 524.88,333.34 524.94,328.18 525.03,332.39 525.14,332.55 525.18,331.53 525.33,331.17 525.49,331.77 525.64,333.04 525.79,333.43 525.94,332.10 526.09,331.91 526.24,333.33 526.39,332.18 526.54,331.88 526.70,331.17 526.85,333.09 527.00,331.57 527.15,333.20 527.30,332.46 527.45,332.09 527.60,330.52 527.65,331.92 527.75,328.76 527.85,325.55 527.91,331.68 527.97,325.55 528.06,331.41 528.16,331.92 528.21,330.89 528.36,333.14 528.51,331.06 528.66,332.96 528.81,330.16 528.97,330.31 529.12,331.19 529.27,332.41 529.42,330.00 529.57,331.32 529.72,331.44 529.87,330.95 530.02,333.13 530.18,331.04 530.33,330.46 530.48,331.06 530.63,331.21 530.67,331.29 530.78,332.24 530.87,320.30 530.93,330.67 530.99,320.30 531.08,331.07 531.19,331.29 531.23,331.22 531.39,331.74 531.54,330.34 531.69,329.93 531.84,330.73 531.99,330.21 532.14,329.76 532.29,329.48 532.45,330.76 532.60,331.15 532.75,331.31 532.90,330.87 533.05,330.32 533.20,329.91 533.35,331.20 533.50,330.61 533.66,331.68 533.70,330.66 533.81,329.47 533.90,315.05 533.96,331.04 534.02,315.05 534.11,330.28 534.22,330.66 534.26,331.29 534.41,330.85 534.56,331.19 534.71,328.86 534.87,330.13 535.02,330.60 535.17,331.32 535.32,330.96 535.47,329.80 535.62,328.71 535.77,331.66 535.92,331.13 536.08,330.39 536.23,330.79 536.38,331.75 536.53,330.11 536.68,329.37 536.73,330.03 536.83,331.58 536.92,308.93 536.98,329.83 537.04,308.93 537.14,329.07 537.24,330.03 537.29,329.02 537.44,330.34 537.59,327.69 537.74,329.34 537.89,330.62 538.04,328.86 538.19,330.86 538.35,328.88 538.50,330.93 538.65,328.92 538.80,330.21 538.95,328.53 539.10,328.88 539.25,329.13 539.40,329.47 539.56,328.45 539.71,331.20 539.75,329.40 539.86,329.02 539.95,302.80 540.01,329.00 540.07,302.80 540.16,328.83 540.27,329.40 540.31,328.55 540.46,325.76 540.62,329.18 540.77,328.49 540.92,329.10 541.07,327.70 541.22,331.14 541.37,327.53 541.52,329.80 541.67,331.29 541.83,330.12 541.98,329.23 542.13,328.85 542.28,329.05 542.43,328.19 542.58,328.99 542.73,328.99 542.78,328.88 542.88,330.96 542.98,300.18 543.04,328.41 543.10,300.18 543.19,327.88 543.29,328.88 543.34,329.23 543.49,330.60 543.64,330.06 543.79,327.13 543.94,329.30 544.10,329.33 544.25,329.45 544.40,327.98 544.55,329.18 544.70,329.42 544.85,330.01 545.00,328.64 545.15,327.54 545.31,328.62 545.46,327.61 545.61,328.26 545.76,328.26 545.80,328.35 545.91,328.20 546.00,306.30 546.06,328.32 546.12,306.30 546.21,327.34 546.32,328.35 546.36,327.83 546.52,328.83 546.67,328.12 546.82,328.29 546.97,327.73 547.12,327.99 547.27,327.74 547.42,329.54 547.58,327.72 547.73,326.80 547.88,329.33 548.03,326.47 548.18,327.70 548.33,328.16 548.48,329.67 548.63,326.86 548.79,328.81 548.83,327.82 548.94,328.34 549.03,304.55 549.09,327.30 549.15,304.55 549.24,328.79 549.35,327.82 549.39,328.72 549.54,328.85 549.69,327.83 549.84,327.13 550.00,327.28 550.15,327.25 550.30,327.95 550.45,327.45 550.60,328.23 550.75,325.61 550.90,327.32 551.05,329.37 551.21,328.49 551.36,325.89 551.51,328.72 551.66,327.80 551.81,326.96 551.86,327.30 551.96,328.38 552.05,307.53 552.11,326.27 552.17,307.53 552.27,325.66 552.37,327.30 552.42,328.04 552.57,326.13 552.72,328.05 552.87,328.13 553.02,326.91 553.17,326.89 553.32,327.66 553.48,326.25 553.63,328.45 553.78,327.83 553.93,328.02 554.08,326.23 554.23,326.16 554.38,326.26 554.53,328.13 554.69,326.73 554.84,326.39 554.88,326.78 554.99,328.36 555.08,308.57 555.14,327.57 555.20,308.57 555.29,326.13 555.40,326.78 555.44,326.06 555.59,326.47 555.75,326.18 555.90,326.37 556.05,326.52 556.20,326.75 556.35,327.46 556.50,326.84 556.65,326.97 556.80,324.33 556.96,326.29 557.11,326.54 557.26,326.73 557.41,326.60 557.56,326.73 557.71,325.92 557.86,326.46 557.91,326.39 558.01,325.63 558.11,310.50 558.17,327.06 558.23,310.50 558.32,326.03 558.42,326.39 558.47,325.51 558.62,327.44 558.77,326.15 558.92,326.06 559.07,326.60 559.23,326.72 559.38,328.02 559.53,325.11 559.68,327.10 559.83,327.37 559.98,325.53 560.13,327.90 560.28,325.19 560.44,325.68 560.59,325.51 560.74,326.22 560.89,327.22 560.93,326.00 561.04,327.84 561.13,303.50 561.19,324.60 561.25,303.50 561.34,326.44 561.45,326.00 561.49,326.46 561.65,324.42 561.80,326.54 561.95,326.14 562.10,326.12 562.25,326.00 562.40,326.85 562.55,326.37 562.71,324.58 562.86,325.06 563.01,328.64 563.16,327.64 563.31,325.41 563.46,325.82 563.61,326.06 563.76,324.67 563.92,327.38 563.96,325.62 564.07,324.48 564.16,304.03 564.22,325.49 564.28,304.03 564.37,325.07 564.48,325.62 564.52,325.34 564.67,324.75 564.82,325.78 564.97,326.05 565.13,324.75 565.28,325.32 565.43,326.67 565.58,324.15 565.73,324.26 565.88,324.02 566.03,325.31 566.18,325.03 566.34,325.72 566.49,326.27 566.64,325.25 566.79,325.12 566.94,325.91 566.99,325.24 567.09,323.49 567.18,307.18 567.24,326.79 567.30,307.18 567.40,326.00 567.50,325.24 567.55,325.84 567.70,323.93 567.85,325.40 568.00,325.45 568.15,325.97 568.30,325.84 568.45,326.34 568.61,324.08 568.76,324.46 568.91,324.07 569.06,325.64 569.21,322.57 569.36,325.91 569.51,326.92 569.66,325.21 569.82,324.78 569.97,324.16 570.01,324.85 570.12,325.85 570.21,315.40 570.27,324.28 570.33,315.40 570.42,323.19 570.53,324.85 570.57,325.64 570.72,325.52 570.88,326.43 571.03,324.55 571.18,323.94 571.33,324.01 571.48,323.94 571.63,323.36 571.78,324.59 571.93,323.78 572.09,325.60 572.24,325.43 572.39,324.42 572.54,325.43 572.69,324.08 572.84,323.29 572.99,324.21 573.04,324.57 573.14,325.29 573.24,320.30 573.30,325.29 573.36,320.30 573.45,323.24 573.55,324.57 573.60,325.31 573.75,324.44 573.90,324.76 574.05,324.45 574.20,323.43 574.36,324.99 574.51,325.82 574.66,323.05 574.81,324.22 574.96,323.72 575.11,324.42 575.26,323.64 575.41,323.16 575.57,323.04 575.72,324.61 575.87,324.67 576.02,323.94 576.06,324.29 576.17,324.10 576.26,321.18 576.32,323.75 576.38,321.18 576.47,324.96 576.58,324.29 576.62,326.50 576.78,323.81 576.93,323.48 577.08,323.60 577.23,322.61 577.38,323.37 577.53,324.55 577.68,323.22 577.84,324.23 577.99,322.93 578.14,323.89 578.29,323.67 578.44,323.87 578.59,324.03 578.74,325.51 578.89,324.00 579.05,326.23 579.20,323.54 579.35,323.06 579.50,322.02 579.65,323.62 579.80,324.66 579.95,325.48 580.10,322.07 580.26,325.30 580.41,323.05 580.56,326.12 580.71,323.93 580.86,323.21 581.01,323.54 581.16,323.88 581.31,324.62 581.47,324.69 581.62,322.83 581.77,323.37 581.92,323.93 582.07,323.56 582.22,324.64 582.37,322.75 582.53,322.50 582.68,324.45 582.83,323.59 582.98,322.67 583.13,324.28 583.28,321.69 583.43,322.18 583.58,323.89 583.74,322.66 583.89,321.99"/>
<polyline fill="none" stroke="#dc3a1c" stroke-width="1.3" stroke-linejoin="round" points="438.64,342.24 438.79,342.14 438.94,342.25 439.09,343.23 439.24,344.17 439.40,342.59 439.55,344.26 439.70,344.76 439.85,346.14 440.00,346.43 440.15,346.20 440.30,347.15 440.45,347.00 440.61,347.15 440.76,349.39 440.91,350.02 441.06,349.05 441.21,350.25 441.36,350.33 441.51,350.46 441.67,351.01 441.82,353.47 441.97,352.61 442.12,352.66 442.27,354.30 442.42,355.28 442.57,355.95 442.72,355.83 442.88,356.93 442.92,357.75 443.03,357.25 443.12,293.18 443.18,358.48 443.24,293.18 443.33,358.03 443.44,357.75 443.48,359.26 443.63,360.28 443.78,359.12 443.93,360.54 444.09,360.82 444.24,360.52 444.39,360.70 444.54,360.45 444.69,360.14 444.84,359.51 444.99,359.90 445.14,360.37 445.30,361.06 445.45,360.49 445.60,360.40 445.75,359.50 445.90,360.78 446.05,361.84 446.20,360.92 446.36,360.87 446.51,361.91 446.66,360.80 446.81,360.73 446.96,360.38 447.11,360.83 447.26,360.27 447.41,361.18 447.57,359.86 447.72,359.02 447.87,358.99 448.02,358.78 448.17,358.06 448.32,356.43 448.47,355.53 448.62,355.56 448.78,354.27 448.93,354.80 448.97,353.83 449.08,353.81 449.17,287.57 449.23,353.89 449.29,287.57 449.38,352.71 449.49,353.83 449.53,352.55 449.68,352.60 449.84,351.93 449.99,350.25 450.14,350.48 450.29,351.25 450.44,350.55 450.59,350.14 450.74,350.10 450.89,349.28 451.05,349.93 451.20,349.18 451.35,348.90 451.50,348.11 451.65,349.30 451.80,348.39 451.95,349.16 452.00,347.80 452.10,347.56 452.20,327.65 452.26,347.57 452.32,327.65 452.41,347.59 452.51,347.80 452.56,347.12 452.71,348.36 452.86,346.89 453.01,347.35 453.16,345.81 453.32,346.49 453.47,345.39 453.62,345.25 453.77,346.44 453.92,346.37 454.07,346.20 454.22,345.35 454.37,344.52 454.53,345.74 454.68,345.36 454.83,346.24 454.98,344.23 455.02,344.91 455.13,344.79 455.22,282.50 455.28,343.00 455.34,282.50 455.43,345.17 455.54,344.91 455.58,344.82 455.74,345.06 455.89,344.38 456.04,344.53 456.19,343.78 456.34,344.35 456.49,344.43 456.64,344.73 456.80,344.23 456.95,344.46 457.10,344.09 457.25,344.14 457.40,343.27 457.55,342.90 457.70,344.08 457.85,343.10 458.01,343.13 458.05,343.23 458.16,343.93 458.25,328.88 458.31,343.93 458.37,328.88 458.46,341.97 458.57,343.23 458.61,342.18 458.76,343.96 458.91,343.20 459.06,342.35 459.22,342.59 459.37,343.16 459.52,342.03 459.67,342.45 459.82,340.91 459.97,340.93 460.12,342.73 460.27,341.82 460.43,342.01 460.58,342.81 460.73,341.87 460.88,341.15 461.03,342.01 461.08,340.95 461.18,340.78 461.27,296.32 461.33,340.94 461.39,296.32 461.49,341.06 461.59,340.95 461.64,340.07 461.79,341.75 461.94,341.67 462.09,340.92 462.24,341.47 462.39,341.07 462.54,341.96 462.70,341.27 462.85,340.54 463.00,342.24 463.15,342.17 463.30,341.26 463.45,341.65 463.60,342.36 463.75,342.35 463.91,342.30 464.06,341.84 464.10,342.17 464.21,342.07 464.30,313.82 464.36,343.14 464.42,313.82 464.51,342.70 464.62,342.17 464.66,342.99 464.81,342.69 464.97,342.96 465.12,341.62 465.27,341.81 465.42,340.82 465.57,341.84 465.72,341.40 465.87,343.40 466.02,342.29 466.18,343.12 466.33,340.62 466.48,341.56 466.63,341.58 466.78,343.10 466.93,343.27 467.08,342.30 467.13,342.17 467.23,342.18 467.33,261.85 467.39,344.12 467.45,261.85 467.54,342.45 467.64,342.17 467.69,342.73 467.84,343.09 467.99,341.65 468.14,342.36 468.29,342.79 468.45,342.01 468.60,342.12 468.75,342.21 468.90,342.28 469.05,341.73 469.20,343.21 469.35,341.30 469.50,342.11 469.66,342.36 469.81,341.60 469.96,342.32 470.11,341.47 470.15,341.96 470.26,342.01 470.35,300.70 470.41,341.28 470.47,300.70 470.56,342.89 470.67,341.96 470.71,342.77 470.87,342.14 471.02,342.24 471.17,341.65 471.32,341.76 471.47,341.39 471.62,342.06 471.77,342.60 471.93,341.68 472.08,340.91 472.23,342.33 472.38,341.18 472.53,341.55 472.68,341.81 472.83,340.42 472.98,340.98 473.14,341.49 473.18,341.28 473.29,340.13 473.38,283.73 473.44,342.54 473.50,283.73 473.59,341.52 473.70,341.28 473.74,341.02 473.89,341.36 474.04,341.95 474.19,340.77 474.35,341.35 474.50,339.98 474.65,341.54 474.80,340.70 474.95,341.02 475.10,339.72 475.25,340.18 475.40,339.83 475.56,340.92 475.71,339.95 475.86,340.71 476.01,340.23 476.16,339.03 476.21,339.71 476.31,341.38 476.40,306.30 476.46,338.89 476.52,306.30 476.62,338.79 476.72,339.71 476.77,340.61 476.92,339.19 477.07,339.49 477.22,339.87 477.37,338.70 477.52,338.15 477.67,338.52 477.83,338.85 477.98,337.93 478.13,337.59 478.28,338.29 478.43,338.00 478.58,337.68 478.73,337.14 478.88,338.45 479.04,338.15 479.19,338.09 479.23,336.90 479.34,336.96 479.43,304.55 479.49,337.75 479.55,304.55 479.64,336.34 479.75,336.90 479.79,338.57 479.94,341.57 480.10,343.34 480.25,345.25 480.40,345.66 480.55,345.29 480.70,346.85 480.85,344.98 481.00,347.25 481.15,345.55 481.31,344.60 481.46,346.04 481.61,345.16 481.76,346.08 481.91,344.57 482.06,344.83 482.21,344.14 482.26,344.62 482.36,344.43 482.46,312.78 482.52,344.58 482.58,312.78 482.67,344.45 482.77,344.62 482.82,345.72 482.97,343.34 483.12,344.68 483.27,343.92 483.42,345.04 483.58,344.26 483.73,344.52 483.88,343.61 484.03,344.54 484.18,343.81 484.33,344.21 484.48,344.20 484.63,343.73 484.79,343.85 484.94,343.10 485.09,342.96 485.24,343.29 485.28,343.23 485.39,344.11 485.48,310.85 485.54,343.15 485.60,310.85 485.69,343.03 485.80,343.23 485.84,342.94 486.00,342.49 486.15,342.66 486.30,343.05 486.45,341.86 486.60,343.40 486.75,343.18 486.90,341.81 487.06,343.06 487.21,343.43 487.36,342.01 487.51,342.01 487.66,342.75 487.81,342.10 487.96,342.13 488.11,341.81 488.27,342.22 488.31,342.00 488.42,341.81 488.51,321.70 488.57,341.75 488.63,321.70 488.72,342.02 488.83,342.00 488.87,341.32 489.02,342.18 489.17,341.96 489.32,340.96 489.48,341.61 489.63,341.58 489.78,341.81 489.93,341.49 490.08,340.94 490.23,342.00 490.38,341.39 490.53,341.38 490.69,341.68 490.84,341.40 490.99,341.01 491.14,340.58 491.29,341.89 491.34,340.95 491.44,341.67 491.53,322.05 491.59,341.77 491.65,322.05 491.75,341.10 491.85,340.95 491.90,341.84 492.05,340.82 492.20,341.01 492.35,340.96 492.50,339.08 492.65,339.73 492.80,340.22 492.96,340.26 493.11,340.29 493.26,339.60 493.41,339.81 493.56,340.64 493.71,339.64 493.86,341.46 494.01,339.72 494.17,339.17 494.32,339.09 494.36,339.90 494.47,339.51 494.56,320.30 494.62,340.65 494.68,320.30 494.77,340.18 494.88,339.90 494.92,339.25 495.07,339.20 495.23,339.71 495.38,338.93 495.53,338.98 495.68,339.45 495.83,339.53 495.98,339.21 496.13,340.42 496.28,338.91 496.44,339.38 496.59,338.94 496.74,338.14 496.89,339.56 497.04,339.06 497.19,339.05 497.34,338.04 497.39,339.13 497.49,340.18 497.59,307.18 497.65,338.70 497.71,307.18 497.80,338.45 497.90,339.13 497.95,339.14 498.10,339.10 498.25,338.96 498.40,338.96 498.55,338.85 498.71,338.67 498.86,338.92 499.01,339.01 499.16,338.92 499.31,337.89 499.46,339.57 499.61,338.48 499.76,338.20 499.92,338.68 500.07,338.64 500.22,336.95 500.37,338.11 500.41,338.36 500.52,337.59 500.61,312.78 500.67,338.40 500.73,312.78 500.82,337.56 500.93,338.36 500.97,337.89 501.13,337.28 501.28,338.75 501.43,336.98 501.58,337.86 501.73,338.19 501.88,338.88 502.03,337.52 502.19,336.98 502.34,337.82 502.49,336.86 502.64,338.31 502.79,338.04 502.94,337.74 503.09,337.14 503.24,337.06 503.40,337.70 503.44,337.59 503.55,336.96 503.64,316.80 503.70,338.20 503.76,316.80 503.85,338.15 503.96,337.59 504.00,336.71 504.15,336.93 504.30,336.54 504.45,337.58 504.61,338.45 504.76,336.26 504.91,336.83 505.06,337.97 505.21,337.36 505.36,337.80 505.51,337.37 505.66,336.13 505.82,335.66 505.97,336.92 506.12,336.77 506.27,337.12 506.42,336.24 506.57,337.72 506.72,338.02 506.88,337.37 507.03,335.93 507.18,337.10 507.33,335.13 507.48,335.12 507.63,336.58 507.78,337.01 507.93,337.36 508.09,336.15 508.24,336.34 508.39,335.80 508.54,335.75 508.69,335.96 508.84,335.70 508.99,336.12 509.14,335.82 509.30,337.05 509.45,335.61 509.49,336.05 509.60,335.37 509.69,328.00 509.75,335.89 509.81,328.00 509.90,336.69 510.01,336.05 510.05,335.56 510.20,335.55 510.36,335.32 510.51,336.23 510.66,334.99 510.81,336.35 510.96,335.73 511.11,335.80 511.26,336.95 511.41,335.44 511.57,336.48 511.72,334.46 511.87,335.26 512.02,336.17 512.17,335.23 512.32,335.93 512.47,335.12 512.62,335.41 512.78,334.99 512.93,334.57 513.08,334.16 513.23,335.45 513.38,335.17 513.53,335.86 513.68,335.05 513.84,334.53 513.99,334.25 514.14,336.20 514.29,334.05 514.44,335.77 514.59,334.96 514.74,334.86 514.89,335.95 515.05,335.98 515.20,334.90 515.35,334.53 515.50,334.59 515.65,335.51 515.80,334.95 515.95,334.21 516.10,334.46 516.26,334.87 516.41,333.62 516.56,334.40 516.71,335.08 516.86,334.63 517.01,334.73 517.16,333.95 517.32,333.86 517.47,333.23 517.62,333.54 517.77,335.06 517.92,334.01 518.07,334.08 518.22,334.28 518.37,334.37 518.53,334.34 518.68,334.91 518.83,334.24 518.98,333.80 519.13,333.36 519.28,334.02 519.43,334.31 519.58,334.25 519.74,334.25 519.89,333.54 520.04,333.48 520.19,333.50 520.34,332.11 520.49,334.62 520.64,333.55 520.79,333.83 520.95,332.56 521.10,333.15 521.25,333.46 521.40,333.19 521.55,332.56 521.70,333.31 521.85,334.03 522.01,333.61 522.16,333.99 522.31,333.09 522.46,334.35 522.61,333.56 522.76,332.36 522.91,332.11 523.06,332.86 523.22,333.07 523.37,332.52 523.52,332.82 523.67,333.28 523.82,332.48 523.97,332.96 524.12,331.98 524.27,333.20 524.43,331.66 524.58,332.65 524.73,331.11 524.88,333.19 525.03,332.89 525.18,332.04 525.33,332.76 525.49,331.62 525.64,332.68 525.79,331.91 525.94,332.15 526.09,333.07 526.24,331.81 526.39,331.73 526.54,332.64 526.70,331.93 526.85,332.19 527.00,331.61 527.15,332.67 527.30,332.72 527.45,332.43 527.60,332.65 527.75,332.64 527.91,332.56 528.06,330.98 528.21,331.11 528.36,330.97 528.51,331.08 528.66,331.40 528.81,332.64 528.97,331.77 529.12,330.77 529.27,331.35 529.42,331.24 529.57,331.06 529.72,330.58 529.87,331.68 530.02,331.40 530.18,331.49 530.33,331.59 530.48,331.22 530.63,331.70 530.67,331.29 530.78,332.27 530.87,327.30 530.93,331.38 530.99,327.30 531.08,331.07 531.19,331.29 531.23,331.22 531.39,330.92 531.54,330.35 531.69,331.39 531.84,331.63 531.99,330.77 532.14,330.83 532.29,331.08 532.45,331.38 532.60,331.09 532.75,331.74 532.90,331.56 533.05,330.88 533.20,331.29 533.35,330.99 533.50,331.03 533.66,330.38 533.70,330.66 533.81,329.81 533.90,322.05 533.96,329.83 534.02,322.05 534.11,330.33 534.22,330.66 534.26,331.05 534.41,330.34 534.56,330.25 534.71,331.74 534.87,331.83 535.02,330.37 535.17,331.41 535.32,329.94 535.47,329.79 535.62,330.10 535.77,330.14 535.92,330.52 536.08,330.14 536.23,330.71 536.38,330.16 536.53,329.49 536.68,329.50 536.73,330.03 536.83,329.28 536.92,315.93 536.98,330.40 537.04,315.93 537.14,330.31 537.24,330.03 537.29,330.60 537.44,329.86 537.59,330.93 537.74,329.06 537.89,330.60 538.04,330.37 538.19,329.25 538.35,329.25 538.50,329.47 538.65,329.51 538.80,329.64 538.95,329.21 539.10,329.38 539.25,329.45 539.40,330.46 539.56,329.33 539.71,328.41 539.75,329.40 539.86,328.92 539.95,313.30 540.01,330.37 540.07,313.30 540.16,328.73 540.27,329.40 540.31,327.87 540.46,329.45 540.62,330.01 540.77,329.10 540.92,329.22 541.07,328.87 541.22,329.42 541.37,328.97 541.52,329.23 541.67,328.79 541.83,329.46 541.98,329.25 542.13,329.29 542.28,329.21 542.43,329.55 542.58,328.20 542.73,329.08 542.78,328.88 542.88,327.96 542.98,310.68 543.04,329.05 543.10,310.68 543.19,330.16 543.29,328.88 543.34,329.53 543.49,328.92 543.64,328.77 543.79,328.57 543.94,328.81 544.10,328.92 544.25,329.06 544.40,329.40 544.55,329.10 544.70,327.91 544.85,327.88 545.00,327.75 545.15,328.41 545.31,327.16 545.46,329.34 545.61,327.89 545.76,328.13 545.80,328.35 545.91,327.75 546.00,315.93 546.06,327.84 546.12,315.93 546.21,328.10 546.32,328.35 546.36,327.94 546.52,328.35 546.67,329.08 546.82,328.29 546.97,327.74 547.12,328.39 547.27,328.10 547.42,328.11 547.58,326.51 547.73,328.20 547.88,327.90 548.03,328.32 548.18,328.96 548.33,327.73 548.48,327.37 548.63,328.29 548.79,327.91 548.83,327.82 548.94,328.18 549.03,316.80 549.09,327.54 549.15,316.80 549.24,327.58 549.35,327.82 549.39,327.46 549.54,327.43 549.69,327.33 549.84,326.61 550.00,327.97 550.15,328.13 550.30,327.80 550.45,327.61 550.60,326.89 550.75,327.56 550.90,326.58 551.05,328.08 551.21,327.58 551.36,328.99 551.51,327.58 551.66,326.22 551.81,328.17 551.86,327.30 551.96,327.18 552.05,318.55 552.11,327.10 552.17,318.55 552.27,326.82 552.37,327.30 552.42,326.48 552.57,326.33 552.72,327.89 552.87,327.05 553.02,326.74 553.17,327.22 553.32,327.06 553.48,327.22 553.63,326.52 553.78,327.18 553.93,326.34 554.08,327.30 554.23,327.32 554.38,326.32 554.53,326.62 554.69,326.83 554.84,326.99 554.88,326.78 554.99,327.13 555.08,318.55 555.14,326.97 555.20,318.55 555.29,326.71 555.40,326.78 555.44,326.98 555.59,325.78 555.75,326.50 555.90,326.86 556.05,326.69 556.20,328.22 556.35,328.00 556.50,326.34 556.65,327.17 556.80,326.10 556.96,326.83 557.11,326.99 557.26,326.21 557.41,326.06 557.56,326.61 557.71,325.19 557.86,326.44 557.91,326.39 558.01,325.74 558.11,320.30 558.17,325.84 558.23,320.30 558.32,325.73 558.42,326.39 558.47,325.84 558.62,326.34 558.77,325.88 558.92,326.41 559.07,326.11 559.23,326.42 559.38,326.00 559.53,325.87 559.68,326.42 559.83,325.48 559.98,326.20 560.13,326.05 560.28,327.49 560.44,327.65 560.59,325.83 560.74,326.59 560.89,326.07 560.93,326.00 561.04,326.26 561.13,314.18 561.19,325.03 561.25,314.18 561.34,326.15 561.45,326.00 561.49,326.34 561.65,325.45 561.80,325.83 561.95,325.14 562.10,324.85 562.25,326.17 562.40,324.77 562.55,325.53 562.71,326.72 562.86,325.79 563.01,324.29 563.16,325.75 563.31,325.24 563.46,326.15 563.61,326.21 563.76,325.68 563.92,325.38 563.96,325.62 564.07,325.35 564.16,315.05 564.22,326.19 564.28,315.05 564.37,326.33 564.48,325.62 564.52,325.93 564.67,326.19 564.82,324.88 564.97,325.74 565.13,325.43 565.28,325.57 565.43,325.91 565.58,325.50 565.73,325.70 565.88,325.26 566.03,325.10 566.18,325.27 566.34,324.97 566.49,325.60 566.64,325.72 566.79,324.62 566.94,325.69 566.99,325.24 567.09,326.24 567.18,318.55 567.24,325.11 567.30,318.55 567.40,325.33 567.50,325.24 567.55,325.43 567.70,325.62 567.85,325.90 568.00,324.36 568.15,325.43 568.30,324.66 568.45,324.58 568.61,325.20 568.76,324.86 568.91,325.57 569.06,324.15 569.21,324.64 569.36,324.89 569.51,324.64 569.66,325.10 569.82,323.54 569.97,324.94 570.01,324.85 570.12,325.83 570.21,321.18 570.27,325.67 570.33,321.18 570.42,324.58 570.53,324.85 570.57,323.63 570.72,325.76 570.88,324.41 571.03,324.85 571.18,324.44 571.33,323.61 571.48,326.09 571.63,324.90 571.78,323.49 571.93,325.13 572.09,324.17 572.24,324.59 572.39,324.61 572.54,325.75 572.69,323.92 572.84,325.56 572.99,324.40 573.14,324.47 573.30,324.46 573.45,324.96 573.60,325.64 573.75,323.49 573.90,324.67 574.05,324.58 574.20,323.17 574.36,324.77 574.51,324.25 574.66,324.51 574.81,324.43 574.96,324.84 575.11,324.14 575.26,324.10 575.41,323.91 575.57,325.09 575.72,324.27 575.87,323.92 576.02,323.87 576.17,323.39 576.32,323.38 576.47,324.86 576.62,325.00 576.78,323.69 576.93,324.32 577.08,323.97 577.23,324.01 577.38,323.52 577.53,323.46 577.68,324.30 577.84,323.12 577.99,323.15 578.14,325.10 578.29,323.79 578.44,324.50 578.59,323.23 578.74,324.00 578.89,324.87 579.05,323.33 579.20,324.59 579.35,324.24 579.50,323.58 579.65,324.35 579.80,323.66 579.95,324.43 580.10,324.54 580.26,324.71 580.41,323.94 580.56,324.11 580.71,324.32 580.86,324.25 581.01,323.45 581.16,323.73 581.31,323.66 581.47,323.11 581.62,323.51 581.77,324.81 581.92,322.10 582.07,323.70 582.22,323.94 582.37,324.64 582.53,324.54 582.68,324.25 582.83,324.31 582.98,323.43 583.13,322.32 583.28,323.75 583.43,323.45 583.58,323.16 583.74,323.10 583.89,323.96"/>
<text x="431.20" y="365.70" font-size="9.5" text-anchor="end">10</text>
<text x="431.20" y="348.20" font-size="9.5" text-anchor="end">20</text>
<text x="431.20" y="330.70" font-size="9.5" text-anchor="end">30</text>
<text x="431.20" y="313.20" font-size="9.5" text-anchor="end">40</text>
<text x="431.20" y="295.70" font-size="9.5" text-anchor="end">50</text>
<text x="431.20" y="278.20" font-size="9.5" text-anchor="end">60</text>
<text x="431.20" y="260.70" font-size="9.5" text-anchor="end">70</text>
<text x="431.20" y="243.20" font-size="9.5" text-anchor="end">80</text>
<text x="434.85" y="373.90" font-size="9.5" text-anchor="middle">0</text>
<text x="465.07" y="373.90" font-size="9.5" text-anchor="middle">200</text>
<text x="495.29" y="373.90" font-size="9.5" text-anchor="middle">400</text>
<text x="525.51" y="373.90" font-size="9.5" text-anchor="middle">600</text>
<text x="555.73" y="373.90" font-size="9.5" text-anchor="middle">800</text>
<text x="585.95" y="373.90" font-size="9.5" text-anchor="middle">1000</text>
<text x="512.25" y="390.10" font-size="10" text-anchor="middle">frequency (MHz)</text>
<text transform="translate(408.40,299.55) rotate(-90)" font-size="10" text-anchor="middle">noise level (dBµV/m)</text>
<line x1="587.90" y1="291.00" x2="602.70" y2="291.00" stroke="#1d2b8c" stroke-width="1.6"/>
<line x1="587.90" y1="305.00" x2="602.70" y2="305.00" stroke="#dc3a1c" stroke-width="1.6"/>
<text x="606.50" y="294.40" font-size="10">H</text>
<text x="606.50" y="308.50" font-size="10">V</text>
<line x1="499.6" y1="234.5" x2="475" y2="252.5" stroke="#3f8fe3" stroke-width="1.3"/>
<circle cx="475" cy="252.5" r="2.3" fill="#3f8fe3"/>
<rect x="499.6" y="207" width="76.7" height="48" rx="3" ry="3" fill="#fff" stroke="#3f8fe3" stroke-width="1.25" stroke-dasharray="1.3 1.5"/>
<text x="505.2" y="222.60" font-size="13">Emission is</text>
<text x="505.2" y="236.50" font-size="13">significantly</text>
<text x="505.2" y="250.40" font-size="13">increased.</text>
<text x="388.6" y="421.7" font-size="16">(c) Cable is changed to balanced</text>
<text x="412" y="440.8" font-size="16">cable in the half way</text>
</svg></body></html>
